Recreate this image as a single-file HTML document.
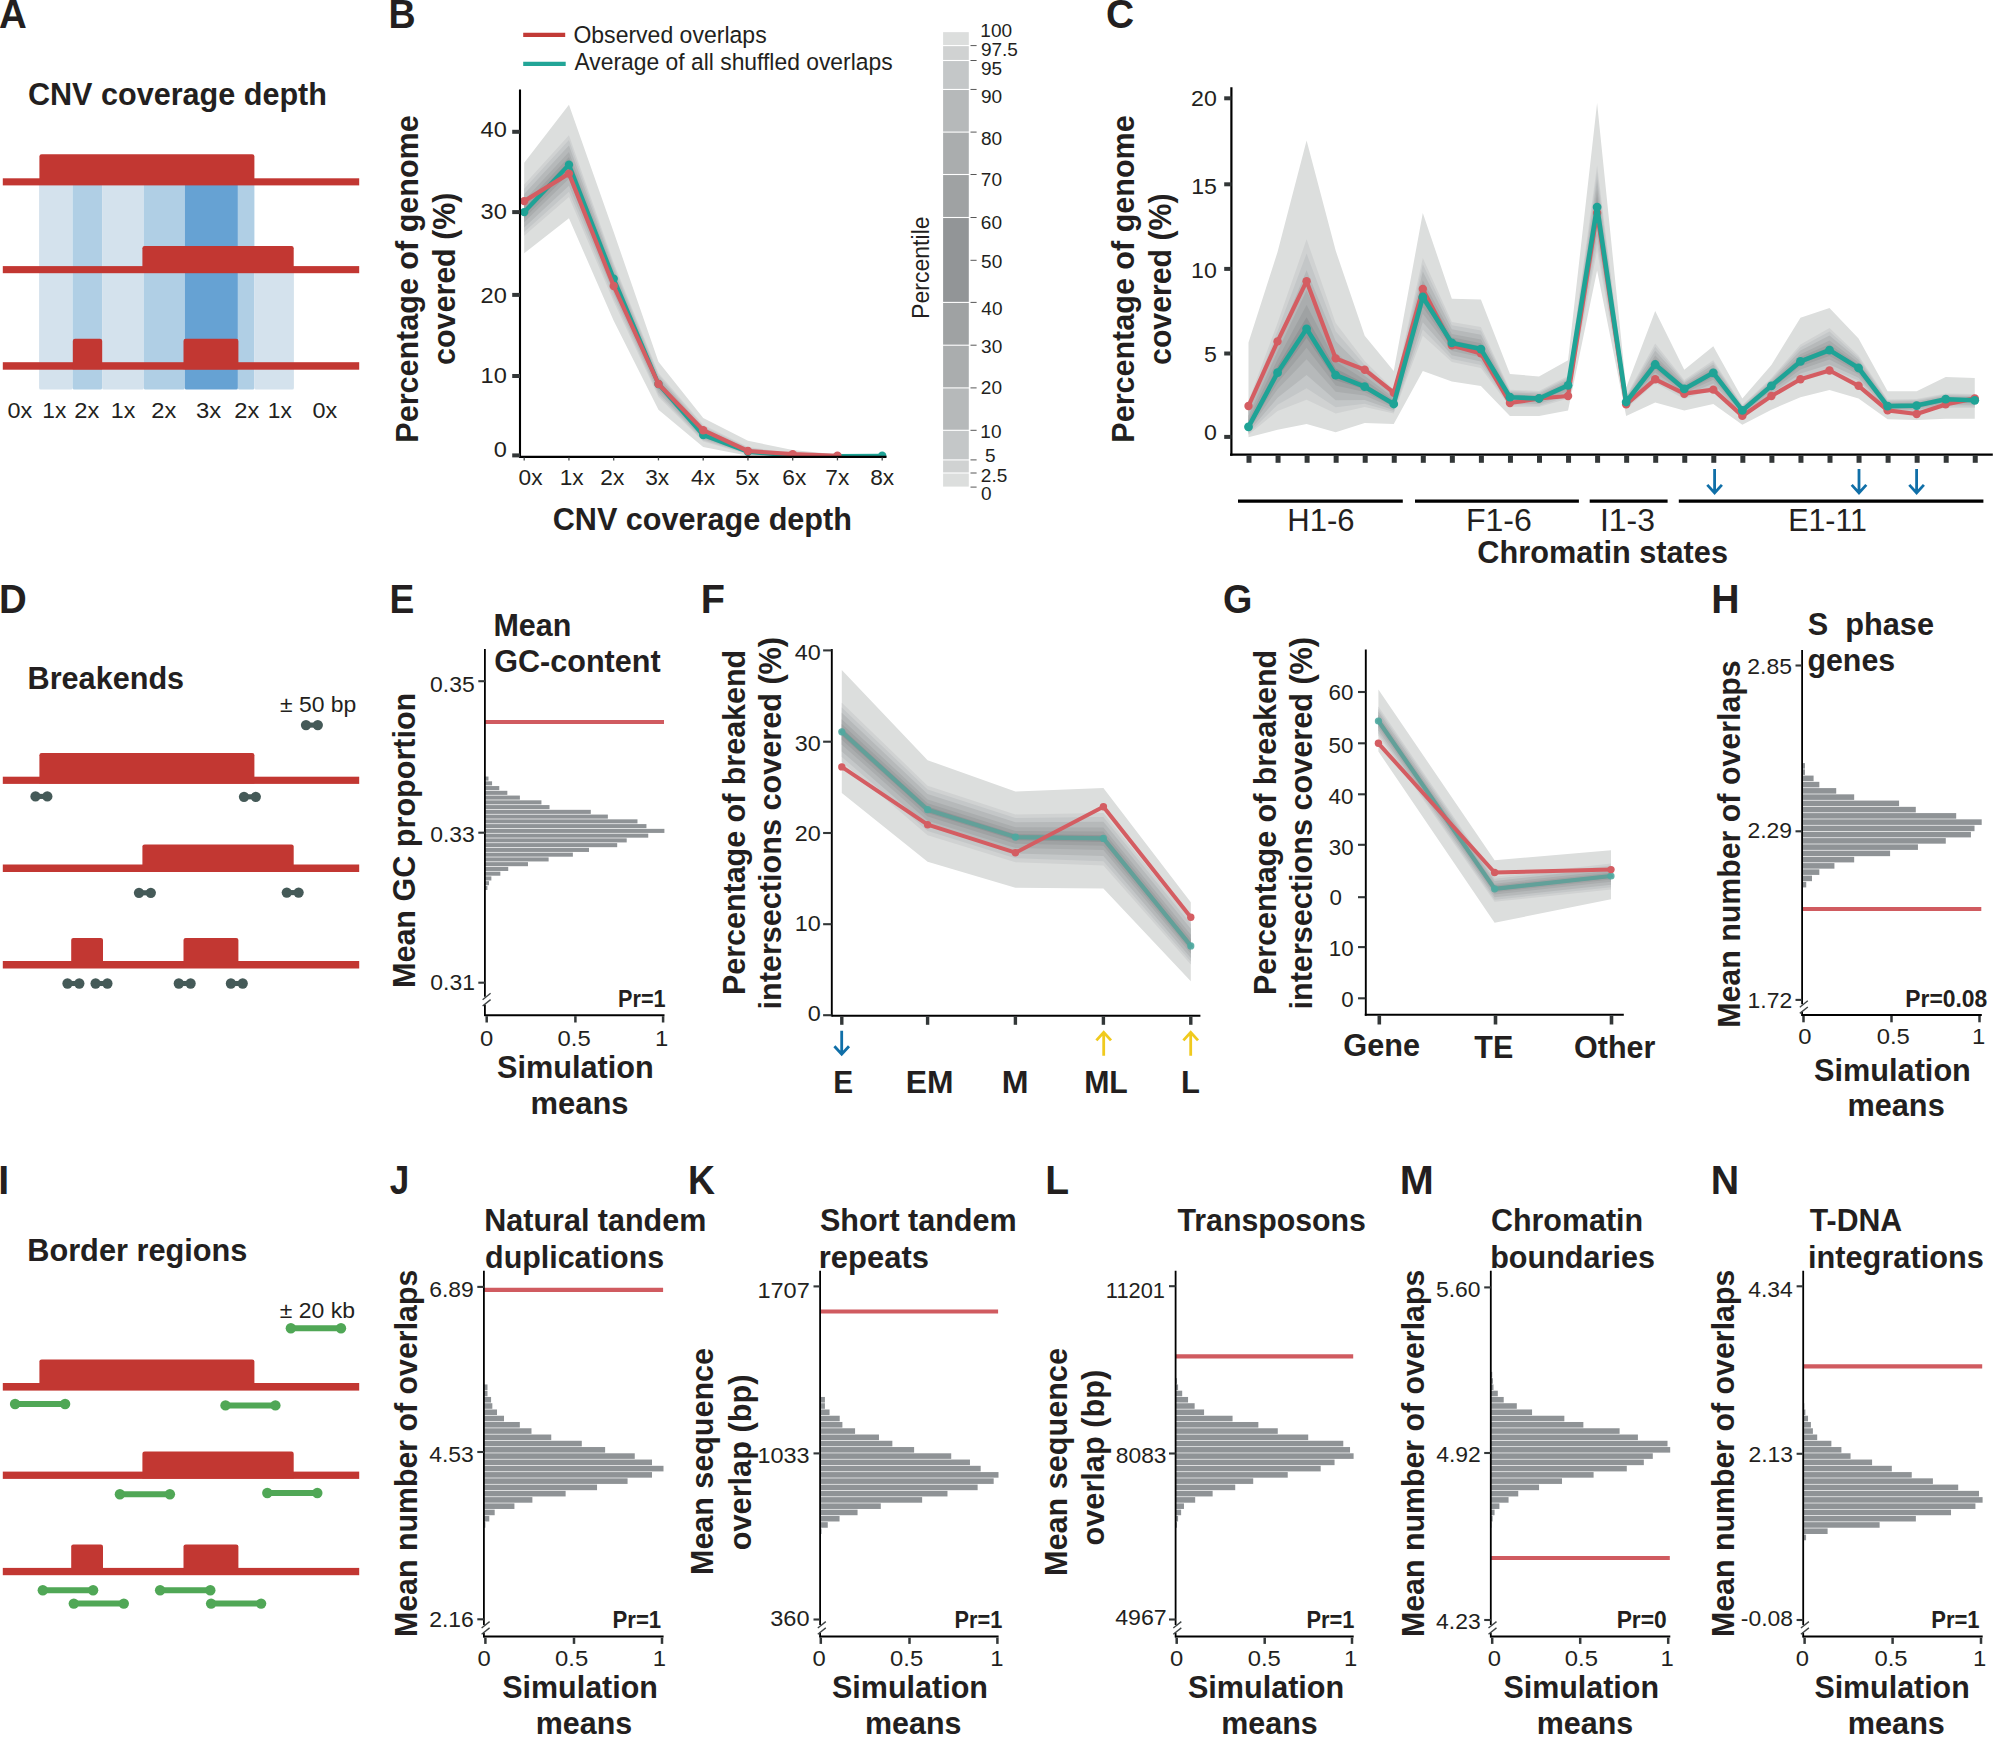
<!DOCTYPE html>
<html lang="en"><head><meta charset="utf-8"><title>Figure</title>
<style>html,body{margin:0;padding:0;background:#fff}svg{display:block}text{font-family:"Liberation Sans",sans-serif;white-space:pre}</style></head>
<body>
<svg width="1999" height="1756" viewBox="0 0 1999 1756">
<rect width="1999" height="1756" fill="#fff"/>
<text transform="translate(-0.96,27.8) scale(0.9603,1.0000)" font-size="40.1" font-weight="700" fill="#231f20">A</text>
<text transform="translate(27.98,105) scale(0.9649,1.0000)" font-size="31.7" font-weight="700" fill="#231f20">CNV coverage depth</text>
<path d="M39.1,185H72.6V387.9Q72.6,389.5 71,389.5H40.7Q39.1,389.5 39.1,387.9Z" fill="#d4e2ed"/>
<path d="M72.6,185H102.1V387.9Q102.1,389.5 100.5,389.5H74.2Q72.6,389.5 72.6,387.9Z" fill="#b0cfe5"/>
<path d="M102.1,185H143.8V387.9Q143.8,389.5 142.2,389.5H103.7Q102.1,389.5 102.1,387.9Z" fill="#d4e2ed"/>
<path d="M143.8,185H184.8V387.9Q184.8,389.5 183.2,389.5H145.4Q143.8,389.5 143.8,387.9Z" fill="#b0cfe5"/>
<path d="M184.8,185H237.9V387.9Q237.9,389.5 236.3,389.5H186.4Q184.8,389.5 184.8,387.9Z" fill="#66a2d3"/>
<path d="M237.9,185H254.4V387.9Q254.4,389.5 252.8,389.5H239.5Q237.9,389.5 237.9,387.9Z" fill="#b0cfe5"/>
<path d="M254.4,272.5H293.9V387.9Q293.9,389.5 292.3,389.5H256Q254.4,389.5 254.4,387.9Z" fill="#d4e2ed"/>
<rect x="2.8" y="178.3" width="356.4" height="7.1" fill="#c23732"/>
<path d="M39.4,184.9V156.5Q39.4,154.3 41.6,154.3H252.2Q254.4,154.3 254.4,156.5V184.9Z" fill="#c23732"/>
<rect x="2.8" y="266.1" width="356.4" height="7.1" fill="#c23732"/>
<path d="M142.4,272.7V248.3Q142.4,246.1 144.6,246.1H291.5Q293.7,246.1 293.7,248.3V272.7Z" fill="#c23732"/>
<rect x="2.8" y="362.2" width="356.4" height="7.5" fill="#c23732"/>
<path d="M72.8,369.2V341Q72.8,338.8 75,338.8H100Q102.2,338.8 102.2,341V369.2Z" fill="#c23732"/>
<path d="M183.5,369.2V341Q183.5,338.8 185.7,338.8H236.2Q238.4,338.8 238.4,341V369.2Z" fill="#c23732"/>
<text transform="translate(7.56,418) scale(1.0327,1.0000)" font-size="22.7" fill="#231f20">0x</text>
<text transform="translate(42.29,418) scale(1.0017,1.0000)" font-size="22.7" fill="#231f20">1x</text>
<text transform="translate(74.32,418) scale(1.0431,1.0000)" font-size="22.7" fill="#231f20">2x</text>
<text transform="translate(110.76,418) scale(1.0245,1.0000)" font-size="22.7" fill="#231f20">1x</text>
<text transform="translate(151.32,418) scale(1.0431,1.0000)" font-size="22.7" fill="#231f20">2x</text>
<text transform="translate(196.1,418) scale(1.0520,1.0000)" font-size="22.7" fill="#231f20">3x</text>
<text transform="translate(234.32,418) scale(1.0431,1.0000)" font-size="22.7" fill="#231f20">2x</text>
<text transform="translate(267.79,418) scale(1.0017,1.0000)" font-size="22.7" fill="#231f20">1x</text>
<text transform="translate(312.56,418) scale(1.0327,1.0000)" font-size="22.7" fill="#231f20">0x</text>
<text transform="translate(-1.09,612.8) scale(0.9568,1.0000)" font-size="40.1" font-weight="700" fill="#231f20">D</text>
<text transform="translate(27.53,689) scale(0.9669,1.0000)" font-size="31.7" font-weight="700" fill="#231f20">Breakends</text>
<text transform="translate(279.95,712) scale(1.0110,1.0000)" font-size="22.7" fill="#231f20">± 50 bp</text>
<rect x="2.8" y="776.7" width="356.4" height="7.2" fill="#c23732"/>
<path d="M39.4,783.4V755.2Q39.4,753 41.6,753H252.2Q254.4,753 254.4,755.2V783.4Z" fill="#c23732"/>
<rect x="2.8" y="864.5" width="356.4" height="7.5" fill="#c23732"/>
<path d="M142.4,871.5V846.6Q142.4,844.4 144.6,844.4H291.5Q293.7,844.4 293.7,846.6V871.5Z" fill="#c23732"/>
<rect x="2.8" y="961" width="356.4" height="7.5" fill="#c23732"/>
<path d="M71.2,968V940.1Q71.2,937.9 73.4,937.9H100.8Q103,937.9 103,940.1V968Z" fill="#c23732"/>
<path d="M183.5,968V940.1Q183.5,937.9 185.7,937.9H236.2Q238.4,937.9 238.4,940.1V968Z" fill="#c23732"/>
<circle cx="306" cy="725.1" r="5.15" fill="#455a58"/>
<circle cx="317.8" cy="725.1" r="5.15" fill="#455a58"/>
<rect x="306" y="722.55" width="11.8" height="5.1" fill="#455a58"/>
<circle cx="35.5" cy="796.4" r="5.15" fill="#455a58"/>
<circle cx="47.3" cy="796.4" r="5.15" fill="#455a58"/>
<rect x="35.5" y="793.85" width="11.8" height="5.1" fill="#455a58"/>
<circle cx="244" cy="796.8" r="5.15" fill="#455a58"/>
<circle cx="255.8" cy="796.8" r="5.15" fill="#455a58"/>
<rect x="244" y="794.25" width="11.8" height="5.1" fill="#455a58"/>
<circle cx="139" cy="892.8" r="5.15" fill="#455a58"/>
<circle cx="150.8" cy="892.8" r="5.15" fill="#455a58"/>
<rect x="139" y="890.25" width="11.8" height="5.1" fill="#455a58"/>
<circle cx="286.8" cy="892.6" r="5.15" fill="#455a58"/>
<circle cx="298.6" cy="892.6" r="5.15" fill="#455a58"/>
<rect x="286.8" y="890.05" width="11.8" height="5.1" fill="#455a58"/>
<circle cx="67.5" cy="983.5" r="5.15" fill="#455a58"/>
<circle cx="79.3" cy="983.5" r="5.15" fill="#455a58"/>
<rect x="67.5" y="980.95" width="11.8" height="5.1" fill="#455a58"/>
<circle cx="95.6" cy="983.5" r="5.15" fill="#455a58"/>
<circle cx="107.4" cy="983.5" r="5.15" fill="#455a58"/>
<rect x="95.6" y="980.95" width="11.8" height="5.1" fill="#455a58"/>
<circle cx="178.8" cy="983.5" r="5.15" fill="#455a58"/>
<circle cx="190.6" cy="983.5" r="5.15" fill="#455a58"/>
<rect x="178.8" y="980.95" width="11.8" height="5.1" fill="#455a58"/>
<circle cx="230.9" cy="983.5" r="5.15" fill="#455a58"/>
<circle cx="242.7" cy="983.5" r="5.15" fill="#455a58"/>
<rect x="230.9" y="980.95" width="11.8" height="5.1" fill="#455a58"/>
<text transform="translate(-1.65,1194) scale(0.9800,1.0000)" font-size="40.1" font-weight="700" fill="#231f20">I</text>
<text transform="translate(27.23,1260.8) scale(0.9692,1.0000)" font-size="31.7" font-weight="700" fill="#231f20">Border regions</text>
<text transform="translate(279.75,1318.3) scale(1.0118,1.0000)" font-size="22.7" fill="#231f20">± 20 kb</text>
<rect x="2.8" y="1383" width="356.4" height="7.6" fill="#c23732"/>
<path d="M39.4,1390.1V1361.6Q39.4,1359.4 41.6,1359.4H252.2Q254.4,1359.4 254.4,1361.6V1390.1Z" fill="#c23732"/>
<rect x="2.8" y="1471.6" width="356.4" height="7.3" fill="#c23732"/>
<path d="M142.4,1478.4V1453.7Q142.4,1451.5 144.6,1451.5H291.5Q293.7,1451.5 293.7,1453.7V1478.4Z" fill="#c23732"/>
<rect x="2.8" y="1567.9" width="356.4" height="7.3" fill="#c23732"/>
<path d="M71.2,1574.7V1546.6Q71.2,1544.4 73.4,1544.4H100.8Q103,1544.4 103,1546.6V1574.7Z" fill="#c23732"/>
<path d="M183.5,1574.7V1546.6Q183.5,1544.4 185.7,1544.4H236.2Q238.4,1544.4 238.4,1546.6V1574.7Z" fill="#c23732"/>
<line x1="290.85" y1="1328.25" x2="341" y2="1328.25" stroke="#50a756" stroke-width="6"/>
<circle cx="290.85" cy="1328.25" r="5.2" fill="#50a756"/>
<circle cx="341" cy="1328.25" r="5.2" fill="#50a756"/>
<line x1="15.1" y1="1404" x2="65.1" y2="1404" stroke="#50a756" stroke-width="6"/>
<circle cx="15.1" cy="1404" r="5.2" fill="#50a756"/>
<circle cx="65.1" cy="1404" r="5.2" fill="#50a756"/>
<line x1="225.5" y1="1405.4" x2="275.4" y2="1405.4" stroke="#50a756" stroke-width="6"/>
<circle cx="225.5" cy="1405.4" r="5.2" fill="#50a756"/>
<circle cx="275.4" cy="1405.4" r="5.2" fill="#50a756"/>
<line x1="119.9" y1="1494.2" x2="169.9" y2="1494.2" stroke="#50a756" stroke-width="6"/>
<circle cx="119.9" cy="1494.2" r="5.2" fill="#50a756"/>
<circle cx="169.9" cy="1494.2" r="5.2" fill="#50a756"/>
<line x1="267.3" y1="1493" x2="317.3" y2="1493" stroke="#50a756" stroke-width="6"/>
<circle cx="267.3" cy="1493" r="5.2" fill="#50a756"/>
<circle cx="317.3" cy="1493" r="5.2" fill="#50a756"/>
<line x1="42.8" y1="1590.2" x2="93.1" y2="1590.2" stroke="#50a756" stroke-width="6"/>
<circle cx="42.8" cy="1590.2" r="5.2" fill="#50a756"/>
<circle cx="93.1" cy="1590.2" r="5.2" fill="#50a756"/>
<line x1="73.8" y1="1603.6" x2="123.8" y2="1603.6" stroke="#50a756" stroke-width="6"/>
<circle cx="73.8" cy="1603.6" r="5.2" fill="#50a756"/>
<circle cx="123.8" cy="1603.6" r="5.2" fill="#50a756"/>
<line x1="160.1" y1="1590.2" x2="210.3" y2="1590.2" stroke="#50a756" stroke-width="6"/>
<circle cx="160.1" cy="1590.2" r="5.2" fill="#50a756"/>
<circle cx="210.3" cy="1590.2" r="5.2" fill="#50a756"/>
<line x1="211.1" y1="1603.6" x2="261.1" y2="1603.6" stroke="#50a756" stroke-width="6"/>
<circle cx="211.1" cy="1603.6" r="5.2" fill="#50a756"/>
<circle cx="261.1" cy="1603.6" r="5.2" fill="#50a756"/>
<text transform="translate(388.57,27.8) scale(0.9362,1.0000)" font-size="40.1" font-weight="700" fill="#231f20">B</text>
<line x1="523.2" y1="34.9" x2="565.2" y2="34.9" stroke="#c23a36" stroke-width="4.2"/>
<line x1="523.2" y1="63.8" x2="565.7" y2="63.8" stroke="#22a597" stroke-width="4.2"/>
<text transform="translate(573.41,42.7) scale(0.9718,1.0000)" font-size="23.7" fill="#231f20">Observed overlaps</text>
<text transform="translate(574.44,70) scale(0.9652,1.0000)" font-size="23.7" fill="#231f20">Average of all shuffled overlaps</text>
<polygon points="524.2,162.8 568.95,104.7 613.7,232 658.45,361.8 703.2,418 747.95,440.8 792.7,450 837.45,454.6 882.2,456.3 882.2,457 837.45,457 792.7,456.8 747.95,455.8 703.2,447 658.45,409.7 613.7,320.7 568.95,218.3 524.2,253.3" fill="#dcdedd"/>
<polygon points="524.2,184.4 568.95,135.3 613.7,263 658.45,373 703.2,424.7 747.95,447 792.7,453.5 837.45,455.8 882.2,456.6 882.2,457 837.45,457 792.7,456.5 747.95,454.5 703.2,441.5 658.45,397 613.7,301.6 568.95,197 524.2,235.8" fill="#d0d2d2"/>
<polygon points="524.2,188.83 568.95,140.02 613.7,265.53 658.45,374.76 703.2,426.35 747.95,447.77 792.7,453.84 837.45,455.86 882.2,456.47 882.2,456.81 837.45,456.87 792.7,456.36 747.95,454.07 703.2,440.46 658.45,394.92 613.7,297.95 568.95,191.85 524.2,232.01" fill="#c4c7c8"/>
<polygon points="524.2,194.01 568.95,145.54 613.7,268.48 658.45,376.82 703.2,428.27 747.95,448.67 792.7,454.23 837.45,455.94 882.2,456.32 882.2,456.58 837.45,456.72 792.7,456.19 747.95,453.56 703.2,439.24 658.45,392.49 613.7,293.69 568.95,185.83 524.2,227.58" fill="#b6b9ba"/>
<polygon points="524.2,200.19 568.95,152.12 613.7,272.01 658.45,379.27 703.2,430.57 747.95,449.74 792.7,454.7 837.45,456.03 882.2,456.14 882.2,456.32 837.45,456.54 792.7,455.99 747.95,452.96 703.2,437.8 658.45,389.59 613.7,288.6 568.95,178.65 524.2,222.29" fill="#aaadae"/>
<polygon points="524.2,204.7 568.95,156.92 613.7,274.58 658.45,381.06 703.2,432.25 747.95,450.52 792.7,455.04 837.45,456.09 882.2,456.01 882.2,456.12 837.45,456.41 792.7,455.84 747.95,452.52 703.2,436.74 658.45,387.47 613.7,284.89 568.95,173.4 524.2,218.43" fill="#9fa2a3"/>
<polygon points="524.2,208.53 568.95,160.99 613.7,276.76 658.45,382.58 703.2,433.67 747.95,451.18 792.7,455.33 837.45,456.15 882.2,455.9 882.2,455.95 837.45,456.3 792.7,455.72 747.95,452.15 703.2,435.84 658.45,385.68 613.7,281.74 568.95,168.95 524.2,215.16" fill="#929597"/>
<clipPath id="cb"><rect x="500" y="80" width="400" height="377"/></clipPath><g clip-path="url(#cb)">
<polyline points="524.2,212.1 568.95,164.8 613.7,278.8 658.45,384 703.2,435 747.95,451.8 792.7,455.6 837.45,456.2 882.2,455.8" fill="none" stroke="#1fa396" stroke-width="4.2" stroke-linejoin="round" stroke-linecap="round"/>
<circle cx="524.2" cy="212.1" r="4.2" fill="#1fa396"/>
<circle cx="568.95" cy="164.8" r="4.2" fill="#1fa396"/>
<circle cx="613.7" cy="278.8" r="4.2" fill="#1fa396"/>
<circle cx="658.45" cy="384" r="4.2" fill="#1fa396"/>
<circle cx="703.2" cy="435" r="4.2" fill="#1fa396"/>
<circle cx="747.95" cy="451.8" r="4.2" fill="#1fa396"/>
<circle cx="792.7" cy="455.6" r="4.2" fill="#1fa396"/>
<circle cx="837.45" cy="456.2" r="4.2" fill="#1fa396"/>
<circle cx="882.2" cy="455.8" r="4.2" fill="#1fa396"/>
<polyline points="524.2,201.1 568.95,173.6 613.7,286 658.45,384 703.2,430.2 747.95,451 792.7,454.2 837.45,455.8" fill="none" stroke="#d45d62" stroke-width="4.2" stroke-linejoin="round" stroke-linecap="round"/>
<circle cx="524.2" cy="201.1" r="4.2" fill="#d45d62"/>
<circle cx="568.95" cy="173.6" r="4.2" fill="#d45d62"/>
<circle cx="613.7" cy="286" r="4.2" fill="#d45d62"/>
<circle cx="658.45" cy="384" r="4.2" fill="#d45d62"/>
<circle cx="703.2" cy="430.2" r="4.2" fill="#d45d62"/>
<circle cx="747.95" cy="451" r="4.2" fill="#d45d62"/>
<circle cx="792.7" cy="454.2" r="4.2" fill="#d45d62"/>
<circle cx="837.45" cy="455.8" r="4.2" fill="#d45d62"/>
</g>
<line x1="520" y1="89.5" x2="520" y2="457.7" stroke="#000" stroke-width="2.1"/>
<line x1="519" y1="456.9" x2="886.5" y2="456.9" stroke="#000" stroke-width="2.2"/>
<line x1="512.2" y1="131.8" x2="520" y2="131.8" stroke="#333738" stroke-width="4"/>
<text transform="translate(480.58,137.1) scale(1.0400,1.0000)" font-size="22.7" fill="#231f20">40</text>
<line x1="512.2" y1="212.1" x2="520" y2="212.1" stroke="#333738" stroke-width="4"/>
<text transform="translate(480.58,219.1) scale(1.0400,1.0000)" font-size="22.7" fill="#231f20">30</text>
<line x1="512.2" y1="294.9" x2="520" y2="294.9" stroke="#333738" stroke-width="4"/>
<text transform="translate(480.58,302.8) scale(1.0400,1.0000)" font-size="22.7" fill="#231f20">20</text>
<line x1="512.2" y1="376" x2="520" y2="376" stroke="#333738" stroke-width="4"/>
<text transform="translate(480.58,382.6) scale(1.0400,1.0000)" font-size="22.7" fill="#231f20">10</text>
<line x1="512.2" y1="455.4" x2="520" y2="455.4" stroke="#333738" stroke-width="4"/>
<text transform="translate(493.68,457.4) scale(1.0400,1.0000)" font-size="22.7" fill="#231f20">0</text>
<line x1="524.2" y1="457.4" x2="524.2" y2="460.4" stroke="#4a4f50" stroke-width="1.3"/>
<text transform="translate(518.51,484.5) scale(1.0000,1.0000)" font-size="22.7" fill="#231f20">0x</text>
<line x1="568.95" y1="457.4" x2="568.95" y2="460.4" stroke="#4a4f50" stroke-width="1.3"/>
<text transform="translate(559.67,484.5) scale(1.0000,1.0000)" font-size="22.7" fill="#231f20">1x</text>
<line x1="613.7" y1="457.4" x2="613.7" y2="460.4" stroke="#4a4f50" stroke-width="1.3"/>
<text transform="translate(600.3,484.5) scale(1.0000,1.0000)" font-size="22.7" fill="#231f20">2x</text>
<line x1="658.45" y1="457.4" x2="658.45" y2="460.4" stroke="#4a4f50" stroke-width="1.3"/>
<text transform="translate(645.19,484.5) scale(1.0000,1.0000)" font-size="22.7" fill="#231f20">3x</text>
<line x1="703.2" y1="457.4" x2="703.2" y2="460.4" stroke="#4a4f50" stroke-width="1.3"/>
<text transform="translate(691.11,484.5) scale(1.0000,1.0000)" font-size="22.7" fill="#231f20">4x</text>
<line x1="747.95" y1="457.4" x2="747.95" y2="460.4" stroke="#4a4f50" stroke-width="1.3"/>
<text transform="translate(735.36,484.5) scale(1.0000,1.0000)" font-size="22.7" fill="#231f20">5x</text>
<line x1="792.7" y1="457.4" x2="792.7" y2="460.4" stroke="#4a4f50" stroke-width="1.3"/>
<text transform="translate(782.3,484.5) scale(1.0000,1.0000)" font-size="22.7" fill="#231f20">6x</text>
<line x1="837.45" y1="457.4" x2="837.45" y2="460.4" stroke="#4a4f50" stroke-width="1.3"/>
<text transform="translate(825.35,484.5) scale(1.0000,1.0000)" font-size="22.7" fill="#231f20">7x</text>
<line x1="882.2" y1="457.4" x2="882.2" y2="460.4" stroke="#4a4f50" stroke-width="1.3"/>
<text transform="translate(870.19,484.5) scale(1.0000,1.0000)" font-size="22.7" fill="#231f20">8x</text>
<text transform="translate(418.2,442.66) rotate(-90) scale(0.9629,1.0000)" font-size="31.7" font-weight="700" fill="#231f20">Percentage of genome</text>
<text transform="translate(454.7,364.92) rotate(-90) scale(0.9598,1.0000)" font-size="31.7" font-weight="700" fill="#231f20">covered (%)</text>
<text transform="translate(552.78,530.1) scale(0.9653,1.0000)" font-size="31.7" font-weight="700" fill="#231f20">CNV coverage depth</text>
<rect x="943.1" y="32.15" width="25.7" height="12.9" fill="#dcdedd"/>
<rect x="943.1" y="46.15" width="25.7" height="13.8" fill="#d0d2d2"/>
<rect x="943.1" y="61.05" width="25.7" height="27.85" fill="#c4c7c8"/>
<rect x="943.1" y="90" width="25.7" height="41.55" fill="#b6b9ba"/>
<rect x="943.1" y="132.65" width="25.7" height="41.3" fill="#aaadae"/>
<rect x="943.1" y="175.05" width="25.7" height="41.9" fill="#9fa2a3"/>
<rect x="943.1" y="218.05" width="25.7" height="83.8" fill="#929597"/>
<rect x="943.1" y="302.95" width="25.7" height="41.7" fill="#9fa2a3"/>
<rect x="943.1" y="345.75" width="25.7" height="41.6" fill="#aaadae"/>
<rect x="943.1" y="388.45" width="25.7" height="41.3" fill="#b6b9ba"/>
<rect x="943.1" y="430.85" width="25.7" height="28.5" fill="#c4c7c8"/>
<rect x="943.1" y="460.45" width="25.7" height="12" fill="#d0d2d2"/>
<rect x="943.1" y="473.55" width="25.7" height="13.05" fill="#dcdedd"/>
<text transform="translate(980.37,36.9) scale(1.0300,1.0000)" font-size="18.5" fill="#231f20">100</text>
<line x1="970.5" y1="45.6" x2="976.6" y2="45.6" stroke="#444" stroke-width="0.9"/>
<text transform="translate(980.89,55.9) scale(1.0300,1.0000)" font-size="18.5" fill="#231f20">97.5</text>
<line x1="970.5" y1="60.5" x2="976.6" y2="60.5" stroke="#444" stroke-width="0.9"/>
<text transform="translate(980.89,74.8) scale(1.0300,1.0000)" font-size="18.5" fill="#231f20">95</text>
<line x1="970.5" y1="89.45" x2="976.6" y2="89.45" stroke="#444" stroke-width="0.9"/>
<text transform="translate(980.89,103.2) scale(1.0300,1.0000)" font-size="18.5" fill="#231f20">90</text>
<line x1="970.5" y1="132.1" x2="976.6" y2="132.1" stroke="#444" stroke-width="0.9"/>
<text transform="translate(980.99,144.6) scale(1.0300,1.0000)" font-size="18.5" fill="#231f20">80</text>
<line x1="970.5" y1="174.5" x2="976.6" y2="174.5" stroke="#444" stroke-width="0.9"/>
<text transform="translate(980.85,186) scale(1.0300,1.0000)" font-size="18.5" fill="#231f20">70</text>
<line x1="970.5" y1="217.5" x2="976.6" y2="217.5" stroke="#444" stroke-width="0.9"/>
<text transform="translate(980.85,228.8) scale(1.0300,1.0000)" font-size="18.5" fill="#231f20">60</text>
<line x1="970.5" y1="260.3" x2="976.6" y2="260.3" stroke="#444" stroke-width="0.9"/>
<text transform="translate(981.04,267.6) scale(1.0300,1.0000)" font-size="18.5" fill="#231f20">50</text>
<line x1="970.5" y1="302.4" x2="976.6" y2="302.4" stroke="#444" stroke-width="0.9"/>
<text transform="translate(981.37,315.2) scale(1.0300,1.0000)" font-size="18.5" fill="#231f20">40</text>
<line x1="970.5" y1="345.2" x2="976.6" y2="345.2" stroke="#444" stroke-width="0.9"/>
<text transform="translate(981.09,353) scale(1.0300,1.0000)" font-size="18.5" fill="#231f20">30</text>
<line x1="970.5" y1="387.9" x2="976.6" y2="387.9" stroke="#444" stroke-width="0.9"/>
<text transform="translate(980.85,394.4) scale(1.0300,1.0000)" font-size="18.5" fill="#231f20">20</text>
<line x1="970.5" y1="430.3" x2="976.6" y2="430.3" stroke="#444" stroke-width="0.9"/>
<text transform="translate(980.37,438.2) scale(1.0300,1.0000)" font-size="18.5" fill="#231f20">10</text>
<line x1="970.5" y1="459.9" x2="976.6" y2="459.9" stroke="#444" stroke-width="0.9"/>
<text transform="translate(985.04,462) scale(1.0300,1.0000)" font-size="18.5" fill="#231f20">5</text>
<line x1="970.5" y1="473" x2="976.6" y2="473" stroke="#444" stroke-width="0.9"/>
<text transform="translate(980.85,481.6) scale(1.0300,1.0000)" font-size="18.5" fill="#231f20">2.5</text>
<line x1="970.5" y1="487.1" x2="976.6" y2="487.1" stroke="#444" stroke-width="0.9"/>
<text transform="translate(981.04,500.4) scale(1.0300,1.0000)" font-size="18.5" fill="#231f20">0</text>
<text transform="translate(929.1,318.9) rotate(-90) scale(0.9687,1.0000)" font-size="23.8" fill="#231f20">Percentile</text>
<text transform="translate(1105.94,27.8) scale(0.9709,1.0000)" font-size="40.1" font-weight="700" fill="#231f20">C</text>
<polygon points="1248.5,342.5 1277.55,252 1306.6,140.4 1335.65,250.6 1364.7,335.8 1393.75,371 1422.8,213 1451.85,298.7 1480.9,299.5 1509.95,374 1539,376.4 1568.05,360.2 1597.1,103 1626.15,387.7 1655.2,311.1 1684.25,369.7 1713.3,346.3 1742.35,398.4 1771.4,365 1800.45,317.8 1829.5,308 1858.55,338.6 1887.6,391.3 1916.65,391.3 1945.7,376.9 1974.75,378.1 1974.75,418.8 1945.7,418.8 1916.65,420 1887.6,419.2 1858.55,398.4 1829.5,390 1800.45,397.2 1771.4,409.7 1742.35,424.7 1713.3,404 1684.25,410.4 1655.2,402.5 1626.15,415.9 1597.1,270.5 1568.05,410.4 1539,416 1509.95,416 1480.9,386 1451.85,381.5 1422.8,371 1393.75,424 1364.7,423 1335.65,432.3 1306.6,424 1277.55,429.8 1248.5,437.3" fill="#dcdedd"/>
<polygon points="1248.5,401 1277.55,323 1306.6,239.3 1335.65,323 1364.7,361 1393.75,389.7 1422.8,258 1451.85,322 1480.9,327 1509.95,389.7 1539,391 1568.05,376 1597.1,165.2 1626.15,396 1655.2,343.4 1684.25,380 1713.3,360.2 1742.35,405 1771.4,378 1800.45,344.6 1829.5,327.9 1858.55,355.4 1887.6,399.5 1916.65,399 1945.7,393.6 1974.75,394 1974.75,408 1945.7,408 1916.65,412.5 1887.6,412.5 1858.55,383 1829.5,372 1800.45,380 1771.4,397.5 1742.35,417.5 1713.3,389 1684.25,399 1655.2,383 1626.15,409 1597.1,251 1568.05,398.5 1539,407 1509.95,407 1480.9,368 1451.85,362 1422.8,335.8 1393.75,413.5 1364.7,407 1335.65,413.5 1306.6,399.7 1277.55,411 1248.5,434.8" fill="#d0d2d2"/>
<polygon points="1248.5,405.13 1277.55,330.95 1306.6,253.62 1335.65,331.35 1364.7,365.11 1393.75,391.99 1422.8,264.24 1451.85,325.34 1480.9,330.54 1509.95,390.9 1539,392.2 1568.05,377.49 1597.1,171.9 1626.15,396.96 1655.2,346.78 1684.25,381.42 1713.3,362.22 1742.35,405.86 1771.4,379.25 1800.45,347.29 1829.5,331.45 1858.55,357.42 1887.6,400.56 1916.65,400.06 1945.7,394.5 1974.75,395.01 1974.75,406.77 1945.7,406.59 1916.65,411.4 1887.6,411.48 1858.55,380.6 1829.5,368.5 1800.45,377.02 1771.4,395.63 1742.35,416.36 1713.3,386.41 1684.25,397.38 1655.2,380.04 1626.15,407.88 1597.1,243.98 1568.05,396.39 1539,405.64 1509.95,405.43 1480.9,364.98 1451.85,358.94 1422.8,329.59 1393.75,411.98 1364.7,403.75 1335.65,407.37 1306.6,388.36 1277.55,404.87 1248.5,433.52" fill="#c4c7c8"/>
<polygon points="1248.5,409.95 1277.55,340.25 1306.6,270.36 1335.65,341.11 1364.7,369.92 1393.75,394.66 1422.8,271.53 1451.85,329.25 1480.9,334.67 1509.95,392.3 1539,393.6 1568.05,379.23 1597.1,179.74 1626.15,398.08 1655.2,350.72 1684.25,383.09 1713.3,364.57 1742.35,406.87 1771.4,380.71 1800.45,350.43 1829.5,335.6 1858.55,359.77 1887.6,401.79 1916.65,401.29 1945.7,395.54 1974.75,396.19 1974.75,405.33 1945.7,404.95 1916.65,410.11 1887.6,410.28 1858.55,377.8 1829.5,364.4 1800.45,373.55 1771.4,393.44 1742.35,415.04 1713.3,383.38 1684.25,395.5 1655.2,376.58 1626.15,406.57 1597.1,235.77 1568.05,393.92 1539,404.05 1509.95,403.6 1480.9,361.44 1451.85,355.37 1422.8,322.34 1393.75,410.2 1364.7,399.96 1335.65,400.21 1306.6,375.1 1277.55,397.71 1248.5,432.02" fill="#b6b9ba"/>
<polygon points="1248.5,415.71 1277.55,351.33 1306.6,290.31 1335.65,352.75 1364.7,375.65 1393.75,397.85 1422.8,280.23 1451.85,333.91 1480.9,339.6 1509.95,393.97 1539,395.27 1568.05,381.3 1597.1,189.08 1626.15,399.42 1655.2,355.43 1684.25,385.07 1713.3,367.38 1742.35,408.08 1771.4,382.45 1800.45,354.18 1829.5,340.55 1858.55,362.58 1887.6,403.26 1916.65,402.76 1945.7,396.79 1974.75,397.59 1974.75,403.61 1945.7,402.98 1916.65,408.57 1887.6,408.85 1858.55,374.45 1829.5,359.52 1800.45,369.4 1771.4,390.83 1742.35,413.45 1713.3,379.77 1684.25,393.24 1655.2,372.45 1626.15,405.01 1597.1,225.98 1568.05,390.98 1539,402.15 1509.95,401.41 1480.9,357.23 1451.85,351.11 1422.8,313.68 1393.75,408.08 1364.7,395.43 1335.65,391.67 1306.6,359.29 1277.55,389.17 1248.5,430.24" fill="#aaadae"/>
<polygon points="1248.5,419.91 1277.55,359.43 1306.6,304.9 1335.65,361.26 1364.7,379.84 1393.75,400.18 1422.8,286.59 1451.85,337.32 1480.9,343.2 1509.95,395.2 1539,396.5 1568.05,382.82 1597.1,195.91 1626.15,400.4 1655.2,358.87 1684.25,386.52 1713.3,369.44 1742.35,408.96 1771.4,383.72 1800.45,356.91 1829.5,344.17 1858.55,364.64 1887.6,404.34 1916.65,403.84 1945.7,397.7 1974.75,398.62 1974.75,402.36 1945.7,401.55 1916.65,407.44 1887.6,407.81 1858.55,372 1829.5,355.95 1800.45,366.37 1771.4,388.92 1742.35,412.3 1713.3,377.13 1684.25,391.6 1655.2,369.44 1626.15,403.87 1597.1,218.82 1568.05,388.82 1539,400.77 1509.95,399.82 1480.9,354.15 1451.85,348 1422.8,307.36 1393.75,406.54 1364.7,392.12 1335.65,385.43 1306.6,347.73 1277.55,382.93 1248.5,428.94" fill="#9fa2a3"/>
<polygon points="1248.5,423.47 1277.55,366.29 1306.6,317.25 1335.65,368.47 1364.7,383.38 1393.75,402.16 1422.8,291.97 1451.85,340.2 1480.9,346.25 1509.95,396.23 1539,397.53 1568.05,384.1 1597.1,201.69 1626.15,401.23 1655.2,361.78 1684.25,387.75 1713.3,371.17 1742.35,409.7 1771.4,384.79 1800.45,359.23 1829.5,347.24 1858.55,366.37 1887.6,405.25 1916.65,404.75 1945.7,398.48 1974.75,399.49 1974.75,401.29 1945.7,400.34 1916.65,406.49 1887.6,406.93 1858.55,369.94 1829.5,352.93 1800.45,363.8 1771.4,387.31 1742.35,411.32 1713.3,374.89 1684.25,390.2 1655.2,366.89 1626.15,402.9 1597.1,212.76 1568.05,387 1539,399.6 1509.95,398.46 1480.9,351.54 1451.85,345.36 1422.8,302.01 1393.75,405.23 1364.7,389.32 1335.65,380.14 1306.6,337.95 1277.55,377.64 1248.5,427.83" fill="#929597"/>
<polyline points="1248.5,406 1277.55,341.4 1306.6,281.2 1335.65,358.4 1364.7,369.7 1393.75,392.7 1422.8,289 1451.85,345.4 1480.9,353.4 1509.95,403 1539,398.5 1568.05,396 1597.1,213 1626.15,404.4 1655.2,379.3 1684.25,393.7 1713.3,389.6 1742.35,415.9 1771.4,396 1800.45,379.3 1829.5,370.5 1858.55,385.8 1887.6,410.4 1916.65,414 1945.7,404.4 1974.75,398.4" fill="none" stroke="#d45d62" stroke-width="4.2" stroke-linejoin="round" stroke-linecap="round"/>
<circle cx="1248.5" cy="406" r="4.2" fill="#d45d62"/>
<circle cx="1277.55" cy="341.4" r="4.2" fill="#d45d62"/>
<circle cx="1306.6" cy="281.2" r="4.2" fill="#d45d62"/>
<circle cx="1335.65" cy="358.4" r="4.2" fill="#d45d62"/>
<circle cx="1364.7" cy="369.7" r="4.2" fill="#d45d62"/>
<circle cx="1393.75" cy="392.7" r="4.2" fill="#d45d62"/>
<circle cx="1422.8" cy="289" r="4.2" fill="#d45d62"/>
<circle cx="1451.85" cy="345.4" r="4.2" fill="#d45d62"/>
<circle cx="1480.9" cy="353.4" r="4.2" fill="#d45d62"/>
<circle cx="1509.95" cy="403" r="4.2" fill="#d45d62"/>
<circle cx="1539" cy="398.5" r="4.2" fill="#d45d62"/>
<circle cx="1568.05" cy="396" r="4.2" fill="#d45d62"/>
<circle cx="1597.1" cy="213" r="4.2" fill="#d45d62"/>
<circle cx="1626.15" cy="404.4" r="4.2" fill="#d45d62"/>
<circle cx="1655.2" cy="379.3" r="4.2" fill="#d45d62"/>
<circle cx="1684.25" cy="393.7" r="4.2" fill="#d45d62"/>
<circle cx="1713.3" cy="389.6" r="4.2" fill="#d45d62"/>
<circle cx="1742.35" cy="415.9" r="4.2" fill="#d45d62"/>
<circle cx="1771.4" cy="396" r="4.2" fill="#d45d62"/>
<circle cx="1800.45" cy="379.3" r="4.2" fill="#d45d62"/>
<circle cx="1829.5" cy="370.5" r="4.2" fill="#d45d62"/>
<circle cx="1858.55" cy="385.8" r="4.2" fill="#d45d62"/>
<circle cx="1887.6" cy="410.4" r="4.2" fill="#d45d62"/>
<circle cx="1916.65" cy="414" r="4.2" fill="#d45d62"/>
<circle cx="1945.7" cy="404.4" r="4.2" fill="#d45d62"/>
<circle cx="1974.75" cy="398.4" r="4.2" fill="#d45d62"/>
<polyline points="1248.5,426.8 1277.55,372.7 1306.6,328.8 1335.65,375.2 1364.7,386.7 1393.75,404 1422.8,297 1451.85,342.9 1480.9,349.1 1509.95,397.2 1539,398.5 1568.05,385.3 1597.1,207.1 1626.15,402 1655.2,364.5 1684.25,388.9 1713.3,372.8 1742.35,410.4 1771.4,385.8 1800.45,361.4 1829.5,350.1 1858.55,368 1887.6,406.1 1916.65,405.6 1945.7,399.2 1974.75,400.3" fill="none" stroke="#1fa396" stroke-width="4.6" stroke-linejoin="round" stroke-linecap="round"/>
<circle cx="1248.5" cy="426.8" r="4.4" fill="#1fa396"/>
<circle cx="1277.55" cy="372.7" r="4.4" fill="#1fa396"/>
<circle cx="1306.6" cy="328.8" r="4.4" fill="#1fa396"/>
<circle cx="1335.65" cy="375.2" r="4.4" fill="#1fa396"/>
<circle cx="1364.7" cy="386.7" r="4.4" fill="#1fa396"/>
<circle cx="1393.75" cy="404" r="4.4" fill="#1fa396"/>
<circle cx="1422.8" cy="297" r="4.4" fill="#1fa396"/>
<circle cx="1451.85" cy="342.9" r="4.4" fill="#1fa396"/>
<circle cx="1480.9" cy="349.1" r="4.4" fill="#1fa396"/>
<circle cx="1509.95" cy="397.2" r="4.4" fill="#1fa396"/>
<circle cx="1539" cy="398.5" r="4.4" fill="#1fa396"/>
<circle cx="1568.05" cy="385.3" r="4.4" fill="#1fa396"/>
<circle cx="1597.1" cy="207.1" r="4.4" fill="#1fa396"/>
<circle cx="1626.15" cy="402" r="4.4" fill="#1fa396"/>
<circle cx="1655.2" cy="364.5" r="4.4" fill="#1fa396"/>
<circle cx="1684.25" cy="388.9" r="4.4" fill="#1fa396"/>
<circle cx="1713.3" cy="372.8" r="4.4" fill="#1fa396"/>
<circle cx="1742.35" cy="410.4" r="4.4" fill="#1fa396"/>
<circle cx="1771.4" cy="385.8" r="4.4" fill="#1fa396"/>
<circle cx="1800.45" cy="361.4" r="4.4" fill="#1fa396"/>
<circle cx="1829.5" cy="350.1" r="4.4" fill="#1fa396"/>
<circle cx="1858.55" cy="368" r="4.4" fill="#1fa396"/>
<circle cx="1887.6" cy="406.1" r="4.4" fill="#1fa396"/>
<circle cx="1916.65" cy="405.6" r="4.4" fill="#1fa396"/>
<circle cx="1945.7" cy="399.2" r="4.4" fill="#1fa396"/>
<circle cx="1974.75" cy="400.3" r="4.4" fill="#1fa396"/>
<line x1="1231.4" y1="87.2" x2="1231.4" y2="455.7" stroke="#000" stroke-width="2.2"/>
<line x1="1230" y1="454.6" x2="1992.8" y2="454.6" stroke="#000" stroke-width="2.2"/>
<line x1="1224.2" y1="98.3" x2="1231.4" y2="98.3" stroke="#333738" stroke-width="4"/>
<text transform="translate(1191.07,106.1) scale(1.0200,1.0000)" font-size="22.7" fill="#231f20">20</text>
<line x1="1224.2" y1="184.3" x2="1231.4" y2="184.3" stroke="#333738" stroke-width="4"/>
<text transform="translate(1191.13,194) scale(1.0200,1.0000)" font-size="22.7" fill="#231f20">15</text>
<line x1="1224.2" y1="268.9" x2="1231.4" y2="268.9" stroke="#333738" stroke-width="4"/>
<text transform="translate(1191.07,278.3) scale(1.0200,1.0000)" font-size="22.7" fill="#231f20">10</text>
<line x1="1224.2" y1="353.5" x2="1231.4" y2="353.5" stroke="#333738" stroke-width="4"/>
<text transform="translate(1203.98,362.1) scale(1.0200,1.0000)" font-size="22.7" fill="#231f20">5</text>
<line x1="1224.2" y1="436.9" x2="1231.4" y2="436.9" stroke="#333738" stroke-width="4"/>
<text transform="translate(1203.92,440) scale(1.0200,1.0000)" font-size="22.7" fill="#231f20">0</text>
<rect x="1246.5" y="455.7" width="5" height="7.1" fill="#333738"/>
<rect x="1275.55" y="455.7" width="5" height="7.1" fill="#333738"/>
<rect x="1304.6" y="455.7" width="5" height="7.1" fill="#333738"/>
<rect x="1333.65" y="455.7" width="5" height="7.1" fill="#333738"/>
<rect x="1362.7" y="455.7" width="5" height="7.1" fill="#333738"/>
<rect x="1391.75" y="455.7" width="5" height="7.1" fill="#333738"/>
<rect x="1420.8" y="455.7" width="5" height="7.1" fill="#333738"/>
<rect x="1449.85" y="455.7" width="5" height="7.1" fill="#333738"/>
<rect x="1478.9" y="455.7" width="5" height="7.1" fill="#333738"/>
<rect x="1507.95" y="455.7" width="5" height="7.1" fill="#333738"/>
<rect x="1537" y="455.7" width="5" height="7.1" fill="#333738"/>
<rect x="1566.05" y="455.7" width="5" height="7.1" fill="#333738"/>
<rect x="1595.1" y="455.7" width="5" height="7.1" fill="#333738"/>
<rect x="1624.15" y="455.7" width="5" height="7.1" fill="#333738"/>
<rect x="1653.2" y="455.7" width="5" height="7.1" fill="#333738"/>
<rect x="1682.25" y="455.7" width="5" height="7.1" fill="#333738"/>
<rect x="1711.3" y="455.7" width="5" height="7.1" fill="#333738"/>
<rect x="1740.35" y="455.7" width="5" height="7.1" fill="#333738"/>
<rect x="1769.4" y="455.7" width="5" height="7.1" fill="#333738"/>
<rect x="1798.45" y="455.7" width="5" height="7.1" fill="#333738"/>
<rect x="1827.5" y="455.7" width="5" height="7.1" fill="#333738"/>
<rect x="1856.55" y="455.7" width="5" height="7.1" fill="#333738"/>
<rect x="1885.6" y="455.7" width="5" height="7.1" fill="#333738"/>
<rect x="1914.65" y="455.7" width="5" height="7.1" fill="#333738"/>
<rect x="1943.7" y="455.7" width="5" height="7.1" fill="#333738"/>
<rect x="1972.75" y="455.7" width="5" height="7.1" fill="#333738"/>
<text transform="translate(1133.9,442.66) rotate(-90) scale(0.9629,1.0000)" font-size="31.7" font-weight="700" fill="#231f20">Percentage of genome</text>
<text transform="translate(1170.6,364.91) rotate(-90) scale(0.9541,1.0000)" font-size="31.7" font-weight="700" fill="#231f20">covered (%)</text>
<line x1="1238" y1="501.1" x2="1402.8" y2="501.1" stroke="#000" stroke-width="3.3"/>
<line x1="1415" y1="501.1" x2="1578.9" y2="501.1" stroke="#000" stroke-width="3.3"/>
<line x1="1589.7" y1="501.1" x2="1667.6" y2="501.1" stroke="#000" stroke-width="3.3"/>
<line x1="1678.8" y1="501.1" x2="1983.4" y2="501.1" stroke="#000" stroke-width="3.3"/>
<text transform="translate(1287.24,531) scale(0.9792,1.0000)" font-size="31.7" fill="#231f20">H1-6</text>
<text transform="translate(1465.95,531) scale(1.0118,1.0000)" font-size="31.7" fill="#231f20">F1-6</text>
<text transform="translate(1599.95,531) scale(1.0075,1.0000)" font-size="31.7" fill="#231f20">I1-3</text>
<text transform="translate(1788.19,531) scale(0.9582,1.0000)" font-size="31.7" fill="#231f20">E1-11</text>
<text transform="translate(1477.37,563.1) scale(0.9681,1.0000)" font-size="31.7" font-weight="700" fill="#231f20">Chromatin states</text>
<path d="M1714.6,469V492.9M1707.3,484.9L1714.6,492.9L1721.9,484.9" fill="none" stroke="#106fa8" stroke-width="2.8" stroke-linejoin="miter"/>
<path d="M1859,469V492.9M1851.7,484.9L1859,492.9L1866.3,484.9" fill="none" stroke="#106fa8" stroke-width="2.8" stroke-linejoin="miter"/>
<path d="M1916.6,469V492.9M1909.3,484.9L1916.6,492.9L1923.9,484.9" fill="none" stroke="#106fa8" stroke-width="2.8" stroke-linejoin="miter"/>
<text transform="translate(389.49,612.8) scale(0.9263,1.0000)" font-size="40.1" font-weight="700" fill="#231f20">E</text>
<text transform="translate(493.44,636) scale(0.9616,1.0000)" font-size="31.7" font-weight="700" fill="#231f20">Mean</text>
<text transform="translate(494.28,672) scale(0.9639,1.0000)" font-size="31.7" font-weight="700" fill="#231f20">GC-content</text>
<rect x="484.9" y="776.54" width="3.59" height="4.07" fill="#8f9396"/>
<rect x="484.9" y="781.3" width="7.18" height="4.07" fill="#8f9396"/>
<rect x="484.9" y="786.05" width="14.36" height="4.07" fill="#8f9396"/>
<rect x="484.9" y="790.81" width="22.44" height="4.07" fill="#8f9396"/>
<rect x="484.9" y="795.56" width="35" height="4.07" fill="#8f9396"/>
<rect x="484.9" y="800.32" width="56.54" height="4.07" fill="#8f9396"/>
<rect x="484.9" y="805.07" width="64.62" height="4.07" fill="#8f9396"/>
<rect x="484.9" y="809.83" width="105.9" height="4.07" fill="#8f9396"/>
<rect x="484.9" y="814.58" width="122.96" height="4.07" fill="#8f9396"/>
<rect x="484.9" y="819.34" width="152.58" height="4.07" fill="#8f9396"/>
<rect x="484.9" y="824.09" width="161.55" height="4.07" fill="#8f9396"/>
<rect x="484.9" y="828.85" width="179.5" height="4.07" fill="#8f9396"/>
<rect x="484.9" y="833.6" width="163.35" height="4.07" fill="#8f9396"/>
<rect x="484.9" y="838.36" width="141.81" height="4.07" fill="#8f9396"/>
<rect x="484.9" y="843.11" width="132.29" height="4.07" fill="#8f9396"/>
<rect x="484.9" y="847.87" width="104.11" height="4.07" fill="#8f9396"/>
<rect x="484.9" y="852.62" width="87.96" height="4.07" fill="#8f9396"/>
<rect x="484.9" y="857.38" width="63.72" height="4.07" fill="#8f9396"/>
<rect x="484.9" y="862.13" width="43.08" height="4.07" fill="#8f9396"/>
<rect x="484.9" y="866.89" width="23.33" height="4.07" fill="#8f9396"/>
<rect x="484.9" y="871.64" width="15.44" height="4.07" fill="#8f9396"/>
<rect x="484.9" y="876.4" width="6.46" height="4.07" fill="#8f9396"/>
<rect x="484.9" y="881.15" width="4.13" height="4.07" fill="#8f9396"/>
<rect x="484.9" y="885.91" width="2.51" height="4.07" fill="#8f9396"/>
<line x1="484.9" y1="722" x2="664" y2="722" stroke="#d05b60" stroke-width="4.2"/>
<line x1="484.9" y1="649" x2="484.9" y2="996.8" stroke="#000" stroke-width="1.8"/>
<line x1="484.9" y1="1004.4" x2="484.9" y2="1016.1" stroke="#000" stroke-width="1.8"/>
<line x1="484.4" y1="1015.2" x2="664.5" y2="1015.2" stroke="#000" stroke-width="2"/>
<line x1="482.6" y1="999.7" x2="490.6" y2="993.3" stroke="#3f4445" stroke-width="1.35"/>
<line x1="482.6" y1="1006" x2="490.6" y2="999.6" stroke="#3f4445" stroke-width="1.35"/>
<line x1="486.7" y1="1016.2" x2="486.7" y2="1022.5" stroke="#333738" stroke-width="2.5"/>
<text transform="translate(479.96,1046.1) scale(1.0500,1.0000)" font-size="22.7" fill="#231f20">0</text>
<line x1="575.4" y1="1016.2" x2="575.4" y2="1022.5" stroke="#333738" stroke-width="2.5"/>
<text transform="translate(557.58,1046.1) scale(1.0500,1.0000)" font-size="22.7" fill="#231f20">0.5</text>
<line x1="663.1" y1="1016.2" x2="663.1" y2="1022.5" stroke="#333738" stroke-width="2.5"/>
<text transform="translate(654.91,1046.1) scale(1.0500,1.0000)" font-size="22.7" fill="#231f20">1</text>
<line x1="478.3" y1="681.2" x2="484.9" y2="681.2" stroke="#333738" stroke-width="2.1"/>
<text transform="translate(430.12,691.7) scale(1.0100,1.0000)" font-size="22.7" fill="#231f20">0.35</text>
<line x1="478.3" y1="832.7" x2="484.9" y2="832.7" stroke="#333738" stroke-width="2.1"/>
<text transform="translate(430.18,842.2) scale(1.0100,1.0000)" font-size="22.7" fill="#231f20">0.33</text>
<line x1="478.3" y1="982.7" x2="484.9" y2="982.7" stroke="#333738" stroke-width="2.1"/>
<text transform="translate(430.3,990.2) scale(1.0100,1.0000)" font-size="22.7" fill="#231f20">0.31</text>
<text transform="translate(415.4,988.06) rotate(-90) scale(0.9642,1.0000)" font-size="31.7" font-weight="700" fill="#231f20">Mean GC proportion</text>
<text transform="translate(618.04,1007) scale(0.9299,1.0000)" font-size="23.3" font-weight="700" fill="#231f20">Pr=1</text>
<text transform="translate(497.08,1077.8) scale(0.9671,1.0000)" font-size="31.7" font-weight="700" fill="#231f20">Simulation</text>
<text transform="translate(530.49,1113.5) scale(0.9765,1.0000)" font-size="31.7" font-weight="700" fill="#231f20">means</text>
<text transform="translate(1711.26,612.8) scale(0.9763,1.0000)" font-size="40.1" font-weight="700" fill="#231f20">H</text>
<text transform="translate(1807.68,635) scale(0.9690,1.0000)" font-size="31.7" font-weight="700" fill="#231f20">S  phase</text>
<text transform="translate(1807.38,671) scale(0.9587,1.0000)" font-size="31.7" font-weight="700" fill="#231f20">genes</text>
<rect x="1802.1" y="763.09" width="2.87" height="5.57" fill="#8f9396"/>
<rect x="1802.1" y="769.34" width="2.87" height="5.57" fill="#8f9396"/>
<rect x="1802.1" y="775.59" width="11.49" height="5.57" fill="#8f9396"/>
<rect x="1802.1" y="781.84" width="17.24" height="5.57" fill="#8f9396"/>
<rect x="1802.1" y="788.09" width="34.12" height="5.57" fill="#8f9396"/>
<rect x="1802.1" y="794.34" width="52.08" height="5.57" fill="#8f9396"/>
<rect x="1802.1" y="800.59" width="96.98" height="5.57" fill="#8f9396"/>
<rect x="1802.1" y="806.84" width="113.69" height="5.57" fill="#8f9396"/>
<rect x="1802.1" y="813.09" width="154.1" height="5.57" fill="#8f9396"/>
<rect x="1802.1" y="819.34" width="179.6" height="5.57" fill="#8f9396"/>
<rect x="1802.1" y="825.59" width="172.42" height="5.57" fill="#8f9396"/>
<rect x="1802.1" y="831.84" width="168.82" height="5.57" fill="#8f9396"/>
<rect x="1802.1" y="838.09" width="143.68" height="5.57" fill="#8f9396"/>
<rect x="1802.1" y="844.34" width="115.84" height="5.57" fill="#8f9396"/>
<rect x="1802.1" y="850.59" width="88" height="5.57" fill="#8f9396"/>
<rect x="1802.1" y="856.84" width="52.08" height="5.57" fill="#8f9396"/>
<rect x="1802.1" y="863.09" width="32.33" height="5.57" fill="#8f9396"/>
<rect x="1802.1" y="869.34" width="17.24" height="5.57" fill="#8f9396"/>
<rect x="1802.1" y="875.59" width="9.88" height="5.57" fill="#8f9396"/>
<rect x="1802.1" y="881.84" width="4.13" height="5.57" fill="#8f9396"/>
<line x1="1802.1" y1="909" x2="1981.3" y2="909" stroke="#d05b60" stroke-width="4.2"/>
<line x1="1802.1" y1="650" x2="1802.1" y2="1004.3" stroke="#000" stroke-width="1.8"/>
<line x1="1802.1" y1="1011.8" x2="1802.1" y2="1015.9" stroke="#000" stroke-width="1.8"/>
<line x1="1801.6" y1="1015" x2="1981.8" y2="1015" stroke="#000" stroke-width="2"/>
<line x1="1799.8" y1="1007.2" x2="1807.8" y2="1000.8" stroke="#3f4445" stroke-width="1.35"/>
<line x1="1799.8" y1="1013.4" x2="1807.8" y2="1007" stroke="#3f4445" stroke-width="1.35"/>
<line x1="1803.5" y1="1016" x2="1803.5" y2="1022.3" stroke="#333738" stroke-width="2.5"/>
<text transform="translate(1798.16,1044.3) scale(1.0500,1.0000)" font-size="22.7" fill="#231f20">0</text>
<line x1="1891.5" y1="1016" x2="1891.5" y2="1022.3" stroke="#333738" stroke-width="2.5"/>
<text transform="translate(1876.63,1044.3) scale(1.0500,1.0000)" font-size="22.7" fill="#231f20">0.5</text>
<line x1="1979.5" y1="1016" x2="1979.5" y2="1022.3" stroke="#333738" stroke-width="2.5"/>
<text transform="translate(1972.06,1044.3) scale(1.0500,1.0000)" font-size="22.7" fill="#231f20">1</text>
<line x1="1795.5" y1="665.5" x2="1802.1" y2="665.5" stroke="#333738" stroke-width="2.1"/>
<text transform="translate(1747.32,673.5) scale(1.0100,1.0000)" font-size="22.7" fill="#231f20">2.85</text>
<line x1="1795.5" y1="831.3" x2="1802.1" y2="831.3" stroke="#333738" stroke-width="2.1"/>
<text transform="translate(1747.44,837.9) scale(1.0100,1.0000)" font-size="22.7" fill="#231f20">2.29</text>
<line x1="1795.5" y1="999.9" x2="1802.1" y2="999.9" stroke="#333738" stroke-width="2.1"/>
<text transform="translate(1747.55,1007.8) scale(1.0100,1.0000)" font-size="22.7" fill="#231f20">1.72</text>
<text transform="translate(1740,1027.85) rotate(-90) scale(0.9578,1.0000)" font-size="31.7" font-weight="700" fill="#231f20">Mean number of overlaps</text>
<text transform="translate(1905.26,1006.7) scale(0.9820,1.0000)" font-size="23.3" font-weight="700" fill="#231f20">Pr=0.08</text>
<text transform="translate(1814.08,1080.6) scale(0.9677,1.0000)" font-size="31.7" font-weight="700" fill="#231f20">Simulation</text>
<text transform="translate(1847.4,1115.7) scale(0.9693,1.0000)" font-size="31.7" font-weight="700" fill="#231f20">means</text>
<text transform="translate(389.87,1194) scale(0.8761,1.0000)" font-size="40.1" font-weight="700" fill="#231f20">J</text>
<text transform="translate(484.24,1231) scale(0.9627,1.0000)" font-size="31.7" font-weight="700" fill="#231f20">Natural tandem</text>
<text transform="translate(485.08,1268) scale(0.9598,1.0000)" font-size="31.7" font-weight="700" fill="#231f20">duplications</text>
<rect x="483.9" y="1384.44" width="3.59" height="5.58" fill="#8f9396"/>
<rect x="483.9" y="1390.7" width="3.59" height="5.58" fill="#8f9396"/>
<rect x="483.9" y="1396.96" width="7.18" height="5.58" fill="#8f9396"/>
<rect x="483.9" y="1403.22" width="8.44" height="5.58" fill="#8f9396"/>
<rect x="483.9" y="1409.48" width="13.11" height="5.58" fill="#8f9396"/>
<rect x="483.9" y="1415.74" width="20.12" height="5.58" fill="#8f9396"/>
<rect x="483.9" y="1422" width="35.92" height="5.58" fill="#8f9396"/>
<rect x="483.9" y="1428.26" width="47.59" height="5.58" fill="#8f9396"/>
<rect x="483.9" y="1434.52" width="67.35" height="5.58" fill="#8f9396"/>
<rect x="483.9" y="1440.78" width="97.88" height="5.58" fill="#8f9396"/>
<rect x="483.9" y="1447.04" width="121.23" height="5.58" fill="#8f9396"/>
<rect x="483.9" y="1453.3" width="150.86" height="5.58" fill="#8f9396"/>
<rect x="483.9" y="1459.56" width="168.11" height="5.58" fill="#8f9396"/>
<rect x="483.9" y="1465.82" width="179.6" height="5.58" fill="#8f9396"/>
<rect x="483.9" y="1472.08" width="168.11" height="5.58" fill="#8f9396"/>
<rect x="483.9" y="1478.34" width="143.68" height="5.58" fill="#8f9396"/>
<rect x="483.9" y="1484.6" width="113.15" height="5.58" fill="#8f9396"/>
<rect x="483.9" y="1490.86" width="81.72" height="5.58" fill="#8f9396"/>
<rect x="483.9" y="1497.12" width="48.49" height="5.58" fill="#8f9396"/>
<rect x="483.9" y="1503.38" width="30.53" height="5.58" fill="#8f9396"/>
<rect x="483.9" y="1509.64" width="10.78" height="5.58" fill="#8f9396"/>
<rect x="483.9" y="1515.9" width="5.39" height="5.58" fill="#8f9396"/>
<rect x="483.9" y="1522.16" width="1.44" height="5.58" fill="#8f9396"/>
<line x1="483.9" y1="1289.8" x2="663.1" y2="1289.8" stroke="#d05b60" stroke-width="4.2"/>
<line x1="483.9" y1="1270.8" x2="483.9" y2="1625.1" stroke="#000" stroke-width="1.8"/>
<line x1="483.9" y1="1632.7" x2="483.9" y2="1637.5" stroke="#000" stroke-width="1.8"/>
<line x1="483.4" y1="1636.6" x2="663.6" y2="1636.6" stroke="#000" stroke-width="2"/>
<line x1="481.6" y1="1628" x2="489.6" y2="1621.6" stroke="#3f4445" stroke-width="1.35"/>
<line x1="481.6" y1="1634.3" x2="489.6" y2="1627.9" stroke="#3f4445" stroke-width="1.35"/>
<line x1="485.4" y1="1637.6" x2="485.4" y2="1643.9" stroke="#333738" stroke-width="2.5"/>
<text transform="translate(477.61,1666.2) scale(1.0500,1.0000)" font-size="22.7" fill="#231f20">0</text>
<line x1="574" y1="1637.6" x2="574" y2="1643.9" stroke="#333738" stroke-width="2.5"/>
<text transform="translate(555.08,1666.2) scale(1.0500,1.0000)" font-size="22.7" fill="#231f20">0.5</text>
<line x1="662" y1="1637.6" x2="662" y2="1643.9" stroke="#333738" stroke-width="2.5"/>
<text transform="translate(652.86,1666.2) scale(1.0500,1.0000)" font-size="22.7" fill="#231f20">1</text>
<line x1="477.3" y1="1286.9" x2="483.9" y2="1286.9" stroke="#333738" stroke-width="2.1"/>
<text transform="translate(429.24,1297.2) scale(1.0100,1.0000)" font-size="22.7" fill="#231f20">6.89</text>
<line x1="477.3" y1="1452" x2="483.9" y2="1452" stroke="#333738" stroke-width="2.1"/>
<text transform="translate(429.18,1462) scale(1.0100,1.0000)" font-size="22.7" fill="#231f20">4.53</text>
<line x1="477.3" y1="1619.3" x2="483.9" y2="1619.3" stroke="#333738" stroke-width="2.1"/>
<text transform="translate(429.18,1627) scale(1.0100,1.0000)" font-size="22.7" fill="#231f20">2.16</text>
<text transform="translate(417.4,1637.05) rotate(-90) scale(0.9570,1.0000)" font-size="31.7" font-weight="700" fill="#231f20">Mean number of overlaps</text>
<text transform="translate(612.51,1628.4) scale(0.9503,1.0000)" font-size="23.3" font-weight="700" fill="#231f20">Pr=1</text>
<text transform="translate(502.29,1698.2) scale(0.9602,1.0000)" font-size="31.7" font-weight="700" fill="#231f20">Simulation</text>
<text transform="translate(535.72,1734.4) scale(0.9611,1.0000)" font-size="31.7" font-weight="700" fill="#231f20">means</text>
<text transform="translate(687.88,1194) scale(0.9318,1.0000)" font-size="40.1" font-weight="700" fill="#231f20">K</text>
<text transform="translate(819.88,1231) scale(0.9634,1.0000)" font-size="31.7" font-weight="700" fill="#231f20">Short tandem</text>
<text transform="translate(818.79,1268) scale(0.9777,1.0000)" font-size="31.7" font-weight="700" fill="#231f20">repeats</text>
<rect x="820.1" y="1396.96" width="4.82" height="5.58" fill="#8f9396"/>
<rect x="820.1" y="1403.22" width="4.82" height="5.58" fill="#8f9396"/>
<rect x="820.1" y="1409.48" width="9.46" height="5.58" fill="#8f9396"/>
<rect x="820.1" y="1415.74" width="19.62" height="5.58" fill="#8f9396"/>
<rect x="820.1" y="1422" width="22.3" height="5.58" fill="#8f9396"/>
<rect x="820.1" y="1428.26" width="34.97" height="5.58" fill="#8f9396"/>
<rect x="820.1" y="1434.52" width="58.87" height="5.58" fill="#8f9396"/>
<rect x="820.1" y="1440.78" width="72.25" height="5.58" fill="#8f9396"/>
<rect x="820.1" y="1447.04" width="94.02" height="5.58" fill="#8f9396"/>
<rect x="820.1" y="1453.3" width="131.12" height="5.58" fill="#8f9396"/>
<rect x="820.1" y="1459.56" width="149.86" height="5.58" fill="#8f9396"/>
<rect x="820.1" y="1465.82" width="160.56" height="5.58" fill="#8f9396"/>
<rect x="820.1" y="1472.08" width="178.4" height="5.58" fill="#8f9396"/>
<rect x="820.1" y="1478.34" width="173.58" height="5.58" fill="#8f9396"/>
<rect x="820.1" y="1484.6" width="157.53" height="5.58" fill="#8f9396"/>
<rect x="820.1" y="1490.86" width="127.38" height="5.58" fill="#8f9396"/>
<rect x="820.1" y="1497.12" width="102.04" height="5.58" fill="#8f9396"/>
<rect x="820.1" y="1503.38" width="60.66" height="5.58" fill="#8f9396"/>
<rect x="820.1" y="1509.64" width="37.46" height="5.58" fill="#8f9396"/>
<rect x="820.1" y="1515.9" width="19.45" height="5.58" fill="#8f9396"/>
<rect x="820.1" y="1522.16" width="7.67" height="5.58" fill="#8f9396"/>
<rect x="820.1" y="1528.42" width="1.43" height="5.58" fill="#8f9396"/>
<line x1="820.1" y1="1311.5" x2="998.1" y2="1311.5" stroke="#d05b60" stroke-width="4.2"/>
<line x1="820.1" y1="1270.8" x2="820.1" y2="1625.1" stroke="#000" stroke-width="1.8"/>
<line x1="820.1" y1="1632.7" x2="820.1" y2="1637.5" stroke="#000" stroke-width="1.8"/>
<line x1="819.6" y1="1636.6" x2="998.6" y2="1636.6" stroke="#000" stroke-width="2"/>
<line x1="817.8" y1="1628" x2="825.8" y2="1621.6" stroke="#3f4445" stroke-width="1.35"/>
<line x1="817.8" y1="1634.3" x2="825.8" y2="1627.9" stroke="#3f4445" stroke-width="1.35"/>
<line x1="820.8" y1="1637.6" x2="820.8" y2="1643.9" stroke="#333738" stroke-width="2.5"/>
<text transform="translate(812.51,1666.2) scale(1.0500,1.0000)" font-size="22.7" fill="#231f20">0</text>
<line x1="909.5" y1="1637.6" x2="909.5" y2="1643.9" stroke="#333738" stroke-width="2.5"/>
<text transform="translate(890.03,1666.2) scale(1.0500,1.0000)" font-size="22.7" fill="#231f20">0.5</text>
<line x1="997.4" y1="1637.6" x2="997.4" y2="1643.9" stroke="#333738" stroke-width="2.5"/>
<text transform="translate(990.31,1666.2) scale(1.0500,1.0000)" font-size="22.7" fill="#231f20">1</text>
<line x1="813.5" y1="1286.4" x2="820.1" y2="1286.4" stroke="#333738" stroke-width="2.1"/>
<text transform="translate(757.43,1297.5) scale(1.0375,1.0000)" font-size="22.7" fill="#231f20">1707</text>
<line x1="813.5" y1="1453.4" x2="820.1" y2="1453.4" stroke="#333738" stroke-width="2.1"/>
<text transform="translate(757.44,1463.2) scale(1.0338,1.0000)" font-size="22.7" fill="#231f20">1033</text>
<line x1="813.5" y1="1619.5" x2="820.1" y2="1619.5" stroke="#333738" stroke-width="2.1"/>
<text transform="translate(770.22,1625.5) scale(1.0374,1.0000)" font-size="22.7" fill="#231f20">360</text>
<text transform="translate(712.8,1574.96) rotate(-90) scale(0.9613,1.0000)" font-size="31.7" font-weight="700" fill="#231f20">Mean sequence</text>
<text transform="translate(751.2,1550.33) rotate(-90) scale(0.9695,1.0000)" font-size="31.7" font-weight="700" fill="#231f20">overlap (bp)</text>
<text transform="translate(954.53,1628.4) scale(0.9340,1.0000)" font-size="23.3" font-weight="700" fill="#231f20">Pr=1</text>
<text transform="translate(831.98,1698.2) scale(0.9633,1.0000)" font-size="31.7" font-weight="700" fill="#231f20">Simulation</text>
<text transform="translate(865.02,1734.4) scale(0.9611,1.0000)" font-size="31.7" font-weight="700" fill="#231f20">means</text>
<text transform="translate(1045.37,1194) scale(0.9732,1.0000)" font-size="40.1" font-weight="700" fill="#231f20">L</text>
<text transform="translate(1177.4,1231) scale(0.9562,1.0000)" font-size="31.7" font-weight="700" fill="#231f20">Transposons</text>
<rect x="1175.6" y="1378.18" width="1.42" height="5.58" fill="#8f9396"/>
<rect x="1175.6" y="1384.44" width="2.49" height="5.58" fill="#8f9396"/>
<rect x="1175.6" y="1390.7" width="6.59" height="5.58" fill="#8f9396"/>
<rect x="1175.6" y="1396.96" width="12.46" height="5.58" fill="#8f9396"/>
<rect x="1175.6" y="1403.22" width="19.05" height="5.58" fill="#8f9396"/>
<rect x="1175.6" y="1409.48" width="28.48" height="5.58" fill="#8f9396"/>
<rect x="1175.6" y="1415.74" width="56.96" height="5.58" fill="#8f9396"/>
<rect x="1175.6" y="1422" width="82.77" height="5.58" fill="#8f9396"/>
<rect x="1175.6" y="1428.26" width="102.17" height="5.58" fill="#8f9396"/>
<rect x="1175.6" y="1434.52" width="132.61" height="5.58" fill="#8f9396"/>
<rect x="1175.6" y="1440.78" width="167.68" height="5.58" fill="#8f9396"/>
<rect x="1175.6" y="1447.04" width="174.44" height="5.58" fill="#8f9396"/>
<rect x="1175.6" y="1453.3" width="178" height="5.58" fill="#8f9396"/>
<rect x="1175.6" y="1459.56" width="158.95" height="5.58" fill="#8f9396"/>
<rect x="1175.6" y="1465.82" width="145.07" height="5.58" fill="#8f9396"/>
<rect x="1175.6" y="1472.08" width="112.14" height="5.58" fill="#8f9396"/>
<rect x="1175.6" y="1478.34" width="77.61" height="5.58" fill="#8f9396"/>
<rect x="1175.6" y="1484.6" width="59.63" height="5.58" fill="#8f9396"/>
<rect x="1175.6" y="1490.86" width="37.02" height="5.58" fill="#8f9396"/>
<rect x="1175.6" y="1497.12" width="19.58" height="5.58" fill="#8f9396"/>
<rect x="1175.6" y="1503.38" width="8.37" height="5.58" fill="#8f9396"/>
<rect x="1175.6" y="1509.64" width="5.52" height="5.58" fill="#8f9396"/>
<rect x="1175.6" y="1515.9" width="2.49" height="5.58" fill="#8f9396"/>
<rect x="1175.6" y="1522.16" width="1.42" height="5.58" fill="#8f9396"/>
<line x1="1175.6" y1="1356.4" x2="1353.2" y2="1356.4" stroke="#d05b60" stroke-width="4.2"/>
<line x1="1175.6" y1="1270.8" x2="1175.6" y2="1625.1" stroke="#000" stroke-width="1.8"/>
<line x1="1175.6" y1="1632.7" x2="1175.6" y2="1637.5" stroke="#000" stroke-width="1.8"/>
<line x1="1175.1" y1="1636.6" x2="1353.7" y2="1636.6" stroke="#000" stroke-width="2"/>
<line x1="1173.3" y1="1628" x2="1181.3" y2="1621.6" stroke="#3f4445" stroke-width="1.35"/>
<line x1="1173.3" y1="1634.3" x2="1181.3" y2="1627.9" stroke="#3f4445" stroke-width="1.35"/>
<line x1="1176.7" y1="1637.6" x2="1176.7" y2="1643.9" stroke="#333738" stroke-width="2.5"/>
<text transform="translate(1170.06,1666.2) scale(1.0500,1.0000)" font-size="22.7" fill="#231f20">0</text>
<line x1="1264.7" y1="1637.6" x2="1264.7" y2="1643.9" stroke="#333738" stroke-width="2.5"/>
<text transform="translate(1247.63,1666.2) scale(1.0500,1.0000)" font-size="22.7" fill="#231f20">0.5</text>
<line x1="1352" y1="1637.6" x2="1352" y2="1643.9" stroke="#333738" stroke-width="2.5"/>
<text transform="translate(1344.06,1666.2) scale(1.0500,1.0000)" font-size="22.7" fill="#231f20">1</text>
<line x1="1169" y1="1286.2" x2="1175.6" y2="1286.2" stroke="#333738" stroke-width="2.1"/>
<text transform="translate(1105.86,1297.7) scale(0.9621,1.0000)" font-size="22.7" fill="#231f20">11201</text>
<line x1="1169" y1="1453.5" x2="1175.6" y2="1453.5" stroke="#333738" stroke-width="2.1"/>
<text transform="translate(1115.83,1463.3) scale(1.0037,1.0000)" font-size="22.7" fill="#231f20">8083</text>
<line x1="1169" y1="1619.5" x2="1175.6" y2="1619.5" stroke="#333738" stroke-width="2.1"/>
<text transform="translate(1115.18,1625.4) scale(1.0204,1.0000)" font-size="22.7" fill="#231f20">4967</text>
<text transform="translate(1067,1576.07) rotate(-90) scale(0.9660,1.0000)" font-size="31.7" font-weight="700" fill="#231f20">Mean sequence</text>
<text transform="translate(1104.2,1545.53) rotate(-90) scale(0.9689,1.0000)" font-size="31.7" font-weight="700" fill="#231f20">overlap (bp)</text>
<text transform="translate(1306.42,1628.4) scale(0.9381,1.0000)" font-size="23.3" font-weight="700" fill="#231f20">Pr=1</text>
<text transform="translate(1187.88,1698.2) scale(0.9652,1.0000)" font-size="31.7" font-weight="700" fill="#231f20">Simulation</text>
<text transform="translate(1221.32,1734.4) scale(0.9600,1.0000)" font-size="31.7" font-weight="700" fill="#231f20">means</text>
<text transform="translate(1399.64,1194) scale(1.0189,1.0000)" font-size="40.1" font-weight="700" fill="#231f20">M</text>
<text transform="translate(1490.98,1231) scale(0.9599,1.0000)" font-size="31.7" font-weight="700" fill="#231f20">Chromatin</text>
<text transform="translate(1490.21,1268) scale(0.9644,1.0000)" font-size="31.7" font-weight="700" fill="#231f20">boundaries</text>
<rect x="1490.8" y="1371.92" width="1.44" height="5.58" fill="#8f9396"/>
<rect x="1490.8" y="1378.18" width="2.15" height="5.58" fill="#8f9396"/>
<rect x="1490.8" y="1384.44" width="2.69" height="5.58" fill="#8f9396"/>
<rect x="1490.8" y="1390.7" width="7" height="5.58" fill="#8f9396"/>
<rect x="1490.8" y="1396.96" width="12.92" height="5.58" fill="#8f9396"/>
<rect x="1490.8" y="1403.22" width="26.01" height="5.58" fill="#8f9396"/>
<rect x="1490.8" y="1409.48" width="41.26" height="5.58" fill="#8f9396"/>
<rect x="1490.8" y="1415.74" width="73.55" height="5.58" fill="#8f9396"/>
<rect x="1490.8" y="1422" width="92.57" height="5.58" fill="#8f9396"/>
<rect x="1490.8" y="1428.26" width="128.81" height="5.58" fill="#8f9396"/>
<rect x="1490.8" y="1434.52" width="147.11" height="5.58" fill="#8f9396"/>
<rect x="1490.8" y="1440.78" width="176.71" height="5.58" fill="#8f9396"/>
<rect x="1490.8" y="1447.04" width="179.4" height="5.58" fill="#8f9396"/>
<rect x="1490.8" y="1453.3" width="162" height="5.58" fill="#8f9396"/>
<rect x="1490.8" y="1459.56" width="153.03" height="5.58" fill="#8f9396"/>
<rect x="1490.8" y="1465.82" width="135.99" height="5.58" fill="#8f9396"/>
<rect x="1490.8" y="1472.08" width="102.8" height="5.58" fill="#8f9396"/>
<rect x="1490.8" y="1478.34" width="71.22" height="5.58" fill="#8f9396"/>
<rect x="1490.8" y="1484.6" width="48.26" height="5.58" fill="#8f9396"/>
<rect x="1490.8" y="1490.86" width="27.45" height="5.58" fill="#8f9396"/>
<rect x="1490.8" y="1497.12" width="17.76" height="5.58" fill="#8f9396"/>
<rect x="1490.8" y="1503.38" width="8.61" height="5.58" fill="#8f9396"/>
<rect x="1490.8" y="1509.64" width="3.77" height="5.58" fill="#8f9396"/>
<rect x="1490.8" y="1515.9" width="1.79" height="5.58" fill="#8f9396"/>
<rect x="1490.8" y="1522.16" width="0.72" height="5.58" fill="#8f9396"/>
<line x1="1490.8" y1="1558" x2="1669.8" y2="1558" stroke="#d05b60" stroke-width="4.2"/>
<line x1="1490.8" y1="1270.8" x2="1490.8" y2="1625.1" stroke="#000" stroke-width="1.8"/>
<line x1="1490.8" y1="1632.7" x2="1490.8" y2="1637.5" stroke="#000" stroke-width="1.8"/>
<line x1="1490.3" y1="1636.6" x2="1670.3" y2="1636.6" stroke="#000" stroke-width="2"/>
<line x1="1488.5" y1="1628" x2="1496.5" y2="1621.6" stroke="#3f4445" stroke-width="1.35"/>
<line x1="1488.5" y1="1634.3" x2="1496.5" y2="1627.9" stroke="#3f4445" stroke-width="1.35"/>
<line x1="1492.2" y1="1637.6" x2="1492.2" y2="1643.9" stroke="#333738" stroke-width="2.5"/>
<text transform="translate(1487.66,1666.2) scale(1.0500,1.0000)" font-size="22.7" fill="#231f20">0</text>
<line x1="1580.2" y1="1637.6" x2="1580.2" y2="1643.9" stroke="#333738" stroke-width="2.5"/>
<text transform="translate(1564.83,1666.2) scale(1.0500,1.0000)" font-size="22.7" fill="#231f20">0.5</text>
<line x1="1668.2" y1="1637.6" x2="1668.2" y2="1643.9" stroke="#333738" stroke-width="2.5"/>
<text transform="translate(1660.46,1666.2) scale(1.0500,1.0000)" font-size="22.7" fill="#231f20">1</text>
<line x1="1484.2" y1="1287.4" x2="1490.8" y2="1287.4" stroke="#333738" stroke-width="2.1"/>
<text transform="translate(1435.97,1297.4) scale(1.0100,1.0000)" font-size="22.7" fill="#231f20">5.60</text>
<line x1="1484.2" y1="1453" x2="1490.8" y2="1453" stroke="#333738" stroke-width="2.1"/>
<text transform="translate(1436.25,1462.4) scale(1.0100,1.0000)" font-size="22.7" fill="#231f20">4.92</text>
<line x1="1484.2" y1="1620" x2="1490.8" y2="1620" stroke="#333738" stroke-width="2.1"/>
<text transform="translate(1436.08,1629) scale(1.0100,1.0000)" font-size="22.7" fill="#231f20">4.23</text>
<text transform="translate(1424.2,1637.05) rotate(-90) scale(0.9570,1.0000)" font-size="31.7" font-weight="700" fill="#231f20">Mean number of overlaps</text>
<text transform="translate(1616.66,1628.4) scale(0.9786,1.0000)" font-size="23.3" font-weight="700" fill="#231f20">Pr=0</text>
<text transform="translate(1503.39,1698.2) scale(0.9608,1.0000)" font-size="31.7" font-weight="700" fill="#231f20">Simulation</text>
<text transform="translate(1536.82,1734.4) scale(0.9600,1.0000)" font-size="31.7" font-weight="700" fill="#231f20">means</text>
<text transform="translate(1710.85,1194) scale(0.9805,1.0000)" font-size="40.1" font-weight="700" fill="#231f20">N</text>
<text transform="translate(1809.8,1231) scale(0.9534,1.0000)" font-size="31.7" font-weight="700" fill="#231f20">T-DNA</text>
<text transform="translate(1807.95,1268) scale(0.9701,1.0000)" font-size="31.7" font-weight="700" fill="#231f20">integrations</text>
<rect x="1803.2" y="1403.22" width="1.08" height="5.58" fill="#8f9396"/>
<rect x="1803.2" y="1409.48" width="2.15" height="5.58" fill="#8f9396"/>
<rect x="1803.2" y="1415.74" width="4.84" height="5.58" fill="#8f9396"/>
<rect x="1803.2" y="1422" width="7.71" height="5.58" fill="#8f9396"/>
<rect x="1803.2" y="1428.26" width="9.69" height="5.58" fill="#8f9396"/>
<rect x="1803.2" y="1434.52" width="13.99" height="5.58" fill="#8f9396"/>
<rect x="1803.2" y="1440.78" width="28.17" height="5.58" fill="#8f9396"/>
<rect x="1803.2" y="1447.04" width="38.21" height="5.58" fill="#8f9396"/>
<rect x="1803.2" y="1453.3" width="47.36" height="5.58" fill="#8f9396"/>
<rect x="1803.2" y="1459.56" width="68.89" height="5.58" fill="#8f9396"/>
<rect x="1803.2" y="1465.82" width="88.62" height="5.58" fill="#8f9396"/>
<rect x="1803.2" y="1472.08" width="108.54" height="5.58" fill="#8f9396"/>
<rect x="1803.2" y="1478.34" width="129.71" height="5.58" fill="#8f9396"/>
<rect x="1803.2" y="1484.6" width="155" height="5.58" fill="#8f9396"/>
<rect x="1803.2" y="1490.86" width="175.81" height="5.58" fill="#8f9396"/>
<rect x="1803.2" y="1497.12" width="179.4" height="5.58" fill="#8f9396"/>
<rect x="1803.2" y="1503.38" width="172.22" height="5.58" fill="#8f9396"/>
<rect x="1803.2" y="1509.64" width="147.83" height="5.58" fill="#8f9396"/>
<rect x="1803.2" y="1515.9" width="112.66" height="5.58" fill="#8f9396"/>
<rect x="1803.2" y="1522.16" width="76.42" height="5.58" fill="#8f9396"/>
<rect x="1803.2" y="1528.42" width="24.4" height="5.58" fill="#8f9396"/>
<rect x="1803.2" y="1534.68" width="2.87" height="5.58" fill="#8f9396"/>
<line x1="1803.2" y1="1366.4" x2="1982.2" y2="1366.4" stroke="#d05b60" stroke-width="4.2"/>
<line x1="1803.2" y1="1270.8" x2="1803.2" y2="1625.1" stroke="#000" stroke-width="1.8"/>
<line x1="1803.2" y1="1632.7" x2="1803.2" y2="1637.5" stroke="#000" stroke-width="1.8"/>
<line x1="1802.7" y1="1636.6" x2="1982.7" y2="1636.6" stroke="#000" stroke-width="2"/>
<line x1="1800.9" y1="1628" x2="1808.9" y2="1621.6" stroke="#3f4445" stroke-width="1.35"/>
<line x1="1800.9" y1="1634.3" x2="1808.9" y2="1627.9" stroke="#3f4445" stroke-width="1.35"/>
<line x1="1804.6" y1="1637.6" x2="1804.6" y2="1643.9" stroke="#333738" stroke-width="2.5"/>
<text transform="translate(1795.86,1666.2) scale(1.0500,1.0000)" font-size="22.7" fill="#231f20">0</text>
<line x1="1892.6" y1="1637.6" x2="1892.6" y2="1643.9" stroke="#333738" stroke-width="2.5"/>
<text transform="translate(1874.43,1666.2) scale(1.0500,1.0000)" font-size="22.7" fill="#231f20">0.5</text>
<line x1="1981" y1="1637.6" x2="1981" y2="1643.9" stroke="#333738" stroke-width="2.5"/>
<text transform="translate(1973.06,1666.2) scale(1.0500,1.0000)" font-size="22.7" fill="#231f20">1</text>
<line x1="1796.6" y1="1286.3" x2="1803.2" y2="1286.3" stroke="#333738" stroke-width="2.1"/>
<text transform="translate(1748.14,1296.7) scale(1.0100,1.0000)" font-size="22.7" fill="#231f20">4.34</text>
<line x1="1796.6" y1="1453.8" x2="1803.2" y2="1453.8" stroke="#333738" stroke-width="2.1"/>
<text transform="translate(1748.48,1462.4) scale(1.0100,1.0000)" font-size="22.7" fill="#231f20">2.13</text>
<line x1="1796.6" y1="1620" x2="1803.2" y2="1620" stroke="#333738" stroke-width="2.1"/>
<text transform="translate(1740.86,1626.4) scale(1.0100,1.0000)" font-size="22.7" fill="#231f20">-0.08</text>
<text transform="translate(1734.2,1637.05) rotate(-90) scale(0.9570,1.0000)" font-size="31.7" font-weight="700" fill="#231f20">Mean number of overlaps</text>
<text transform="translate(1931.21,1628.4) scale(0.9462,1.0000)" font-size="23.3" font-weight="700" fill="#231f20">Pr=1</text>
<text transform="translate(1814.39,1698.2) scale(0.9589,1.0000)" font-size="31.7" font-weight="700" fill="#231f20">Simulation</text>
<text transform="translate(1847.81,1734.4) scale(0.9672,1.0000)" font-size="31.7" font-weight="700" fill="#231f20">means</text>
<text transform="translate(700.73,612.8) scale(0.9877,1.0000)" font-size="40.1" font-weight="700" fill="#231f20">F</text>
<polygon points="841.8,670 927.6,760.2 1015.4,791.5 1103.4,788 1190.8,902.2 1190.8,981.3 1103.4,888.5 1015.4,887.8 927.6,861.7 841.8,793" fill="#dcdedd"/>
<polygon points="841.8,702.8 927.6,785.7 1015.4,814.4 1103.4,812.9 1190.8,919.7 1190.8,964.4 1103.4,865.5 1015.4,862.3 927.6,835.2 841.8,761.8" fill="#d0d2d2"/>
<polygon points="841.8,707.44 927.6,789.54 1015.4,818.03 1103.4,816.98 1190.8,923.89 1190.8,961.44 1103.4,861.16 1015.4,858.27 927.6,831.12 841.8,757" fill="#c4c7c8"/>
<polygon points="841.8,712.86 927.6,794.03 1015.4,822.28 1103.4,821.75 1190.8,928.79 1190.8,957.98 1103.4,856.1 1015.4,853.56 927.6,826.35 841.8,751.39" fill="#b6b9ba"/>
<polygon points="841.8,719.33 927.6,799.38 1015.4,827.34 1103.4,827.43 1190.8,934.63 1190.8,953.86 1103.4,850.05 1015.4,847.94 927.6,820.67 841.8,744.7" fill="#aaadae"/>
<polygon points="841.8,724.06 927.6,803.29 1015.4,831.04 1103.4,831.59 1190.8,938.9 1190.8,950.84 1103.4,845.64 1015.4,843.83 927.6,816.51 841.8,739.81" fill="#9fa2a3"/>
<polygon points="841.8,728.06 927.6,806.6 1015.4,834.17 1103.4,835.11 1190.8,942.52 1190.8,948.29 1103.4,841.9 1015.4,840.35 927.6,812.99 841.8,735.67" fill="#929597"/>
<polyline points="841.8,731.8 927.6,809.7 1015.4,837.1 1103.4,838.4 1190.8,945.9" fill="none" stroke="#62a099" stroke-width="4.2" stroke-linejoin="round" stroke-linecap="round"/>
<circle cx="841.8" cy="731.8" r="3.6" fill="#4fa9a0" fill-opacity="0.9"/>
<circle cx="927.6" cy="809.7" r="3.6" fill="#4fa9a0" fill-opacity="0.9"/>
<circle cx="1015.4" cy="837.1" r="3.6" fill="#4fa9a0" fill-opacity="0.9"/>
<circle cx="1103.4" cy="838.4" r="3.6" fill="#4fa9a0" fill-opacity="0.9"/>
<circle cx="1190.8" cy="945.9" r="3.6" fill="#4fa9a0" fill-opacity="0.9"/>
<polyline points="841.8,766.9 927.6,824.7 1015.4,852.7 1103.4,806.8 1190.8,917.2" fill="none" stroke="#d45d62" stroke-width="4" stroke-linejoin="round" stroke-linecap="round"/>
<circle cx="841.8" cy="766.9" r="3.7" fill="#d45d62"/>
<circle cx="927.6" cy="824.7" r="3.7" fill="#d45d62"/>
<circle cx="1015.4" cy="852.7" r="3.7" fill="#d45d62"/>
<circle cx="1103.4" cy="806.8" r="3.7" fill="#d45d62"/>
<circle cx="1190.8" cy="917.2" r="3.7" fill="#d45d62"/>
<line x1="831.8" y1="649" x2="831.8" y2="1016.4" stroke="#000" stroke-width="1.9"/>
<line x1="831.7" y1="1015.8" x2="1200.4" y2="1015.8" stroke="#000" stroke-width="2.1"/>
<line x1="823.1" y1="650.4" x2="831.5" y2="650.4" stroke="#333738" stroke-width="2.1"/>
<text transform="translate(794.82,660.1) scale(1.0300,1.0000)" font-size="22.7" fill="#231f20">40</text>
<line x1="823.1" y1="741.7" x2="831.5" y2="741.7" stroke="#333738" stroke-width="2.1"/>
<text transform="translate(794.82,750.5) scale(1.0300,1.0000)" font-size="22.7" fill="#231f20">30</text>
<line x1="823.1" y1="833" x2="831.5" y2="833" stroke="#333738" stroke-width="2.1"/>
<text transform="translate(794.82,840.9) scale(1.0300,1.0000)" font-size="22.7" fill="#231f20">20</text>
<line x1="823.1" y1="924.2" x2="831.5" y2="924.2" stroke="#333738" stroke-width="2.1"/>
<text transform="translate(794.82,931.2) scale(1.0300,1.0000)" font-size="22.7" fill="#231f20">10</text>
<line x1="823.1" y1="1015.2" x2="831.5" y2="1015.2" stroke="#333738" stroke-width="2.1"/>
<text transform="translate(807.8,1021.4) scale(1.0300,1.0000)" font-size="22.7" fill="#231f20">0</text>
<line x1="841.8" y1="1016.8" x2="841.8" y2="1024.8" stroke="#333738" stroke-width="3.4"/>
<line x1="927.6" y1="1016.8" x2="927.6" y2="1024.8" stroke="#333738" stroke-width="3.4"/>
<line x1="1015.4" y1="1016.8" x2="1015.4" y2="1024.8" stroke="#333738" stroke-width="3.4"/>
<line x1="1103.4" y1="1016.8" x2="1103.4" y2="1024.8" stroke="#333738" stroke-width="3.4"/>
<line x1="1190.8" y1="1016.8" x2="1190.8" y2="1024.8" stroke="#333738" stroke-width="3.4"/>
<path d="M841.7,1030.8V1054.2M834.4,1046.2L841.7,1054.2L849,1046.2" fill="none" stroke="#106fa8" stroke-width="2.8" stroke-linejoin="miter"/>
<path d="M1103.7,1055.7V1032.4M1096.4,1040.4L1103.7,1032.4L1111,1040.4" fill="none" stroke="#f0ca1e" stroke-width="2.8" stroke-linejoin="miter"/>
<path d="M1190.7,1055.7V1032.4M1183.4,1040.4L1190.7,1032.4L1198,1040.4" fill="none" stroke="#f0ca1e" stroke-width="2.8" stroke-linejoin="miter"/>
<text transform="translate(833.29,1093) scale(0.9407,1.0000)" font-size="31.7" font-weight="700" fill="#231f20">E</text>
<text transform="translate(905.75,1093) scale(1.0035,1.0000)" font-size="31.7" font-weight="700" fill="#231f20">EM</text>
<text transform="translate(1001.63,1093) scale(1.0140,1.0000)" font-size="31.7" font-weight="700" fill="#231f20">M</text>
<text transform="translate(1084.16,1093) scale(0.9546,1.0000)" font-size="31.7" font-weight="700" fill="#231f20">ML</text>
<text transform="translate(1181.01,1093) scale(0.9787,1.0000)" font-size="31.7" font-weight="700" fill="#231f20">L</text>
<text transform="translate(744.9,995.06) rotate(-90) scale(0.9606,1.0000)" font-size="31.7" font-weight="700" fill="#231f20">Percentage of breakend</text>
<text transform="translate(780.9,1009.54) rotate(-90) scale(0.9660,1.0000)" font-size="31.7" font-weight="700" fill="#231f20">intersections covered (%)</text>
<text transform="translate(1222.89,612.8) scale(0.9421,1.0000)" font-size="40.1" font-weight="700" fill="#231f20">G</text>
<polygon points="1378.4,689.4 1494.6,860.3 1611,850.2 1611,899.2 1494.6,922.8 1378.4,751.5" fill="#dcdedd"/>
<polygon points="1378.4,706.6 1494.6,876.8 1611,863.5 1611,889.5 1494.6,901.8 1378.4,735.5" fill="#d0d2d2"/>
<polygon points="1378.4,708.9 1494.6,878.72 1611,865.5 1611,887.34 1494.6,899.72 1378.4,733.18" fill="#c4c7c8"/>
<polygon points="1378.4,711.6 1494.6,880.96 1611,867.84 1611,884.82 1494.6,897.29 1378.4,730.47" fill="#b6b9ba"/>
<polygon points="1378.4,714.81 1494.6,883.64 1611,870.62 1611,881.8 1494.6,894.39 1378.4,727.24" fill="#aaadae"/>
<polygon points="1378.4,717.16 1494.6,885.6 1611,872.66 1611,879.6 1494.6,892.27 1378.4,724.87" fill="#9fa2a3"/>
<polygon points="1378.4,719.14 1494.6,887.25 1611,874.39 1611,877.74 1494.6,890.48 1378.4,722.87" fill="#929597"/>
<polyline points="1378.4,721 1494.6,888.8 1611,876" fill="none" stroke="#62a099" stroke-width="4.2" stroke-linejoin="round" stroke-linecap="round"/>
<circle cx="1378.4" cy="721" r="3.6" fill="#4fa9a0" fill-opacity="0.9"/>
<circle cx="1494.6" cy="888.8" r="3.6" fill="#4fa9a0" fill-opacity="0.9"/>
<circle cx="1611" cy="876" r="3.6" fill="#4fa9a0" fill-opacity="0.9"/>
<polyline points="1378.4,743.3 1494.6,872.5 1611,869.6" fill="none" stroke="#d45d62" stroke-width="4" stroke-linejoin="round" stroke-linecap="round"/>
<circle cx="1378.4" cy="743.3" r="3.7" fill="#d45d62"/>
<circle cx="1494.6" cy="872.5" r="3.7" fill="#d45d62"/>
<circle cx="1611" cy="869.6" r="3.7" fill="#d45d62"/>
<line x1="1365.8" y1="649.5" x2="1365.8" y2="1015.8" stroke="#000" stroke-width="1.9"/>
<line x1="1364.8" y1="1014.8" x2="1623.8" y2="1014.8" stroke="#000" stroke-width="2.1"/>
<line x1="1358" y1="692" x2="1365.4" y2="692" stroke="#333738" stroke-width="2.1"/>
<text transform="translate(1328.52,700.1) scale(0.9850,1.0000)" font-size="22.7" fill="#231f20">60</text>
<line x1="1358" y1="743.3" x2="1365.4" y2="743.3" stroke="#333738" stroke-width="2.1"/>
<text transform="translate(1328.52,752.6) scale(0.9850,1.0000)" font-size="22.7" fill="#231f20">50</text>
<line x1="1358" y1="794.3" x2="1365.4" y2="794.3" stroke="#333738" stroke-width="2.1"/>
<text transform="translate(1328.52,803.9) scale(0.9850,1.0000)" font-size="22.7" fill="#231f20">40</text>
<line x1="1358" y1="844.8" x2="1365.4" y2="844.8" stroke="#333738" stroke-width="2.1"/>
<text transform="translate(1328.82,855.3) scale(0.9850,1.0000)" font-size="22.7" fill="#231f20">30</text>
<line x1="1358" y1="897.2" x2="1365.4" y2="897.2" stroke="#333738" stroke-width="2.1"/>
<text transform="translate(1329.43,905.4) scale(0.9850,1.0000)" font-size="22.7" fill="#231f20">0</text>
<line x1="1358" y1="947.1" x2="1365.4" y2="947.1" stroke="#333738" stroke-width="2.1"/>
<text transform="translate(1328.82,956.1) scale(0.9850,1.0000)" font-size="22.7" fill="#231f20">10</text>
<line x1="1358" y1="998.3" x2="1365.4" y2="998.3" stroke="#333738" stroke-width="2.1"/>
<text transform="translate(1341.23,1007.4) scale(0.9850,1.0000)" font-size="22.7" fill="#231f20">0</text>
<line x1="1379.3" y1="1015.8" x2="1379.3" y2="1024.5" stroke="#333738" stroke-width="3.6"/>
<line x1="1495.5" y1="1015.8" x2="1495.5" y2="1024.5" stroke="#333738" stroke-width="3.6"/>
<line x1="1611.5" y1="1015.8" x2="1611.5" y2="1024.5" stroke="#333738" stroke-width="3.6"/>
<text transform="translate(1343.27,1055.5) scale(0.9681,1.0000)" font-size="31.7" font-weight="700" fill="#231f20">Gene</text>
<text transform="translate(1474.3,1058) scale(0.9611,1.0000)" font-size="31.7" font-weight="700" fill="#231f20">TE</text>
<text transform="translate(1574.08,1058.2) scale(0.9612,1.0000)" font-size="31.7" font-weight="700" fill="#231f20">Other</text>
<text transform="translate(1276,995.06) rotate(-90) scale(0.9606,1.0000)" font-size="31.7" font-weight="700" fill="#231f20">Percentage of breakend</text>
<text transform="translate(1312,1009.54) rotate(-90) scale(0.9660,1.0000)" font-size="31.7" font-weight="700" fill="#231f20">intersections covered (%)</text>
</svg>
</body></html>
